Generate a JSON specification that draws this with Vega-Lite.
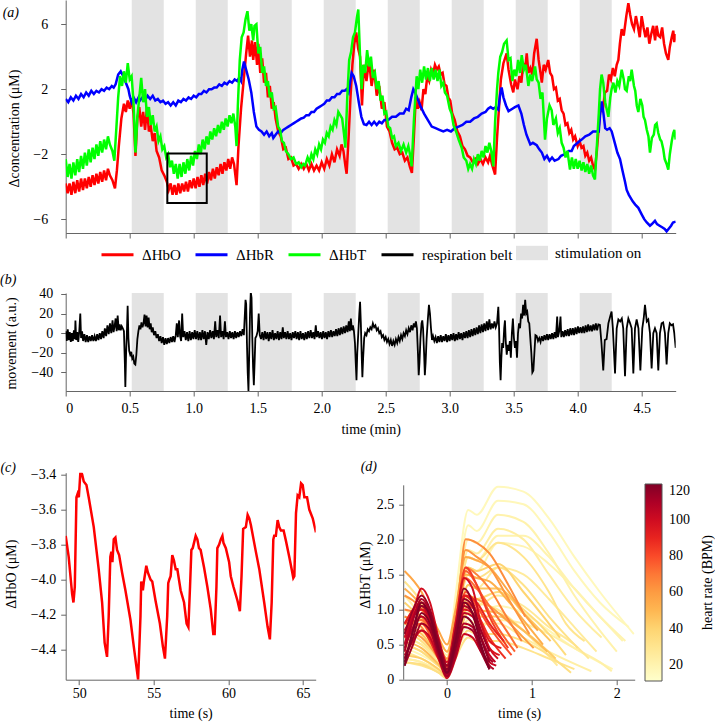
{
"$schema":"https://vega.github.io/schema/vega-lite/v6.json",
"autosize":{"type":"none"},
"padding":{"left":65.7,"top":0,"right":649.3,"bottom":723},
"background":"white",
"config":{
"font":"Liberation Serif",
"view":{"stroke":null},
"axis":{"labelFont":"Liberation Serif","titleFont":"Liberation Serif","labelFontSize":14,"titleFontSize":14,"titleFontWeight":"normal","labelColor":"#000","titleColor":"#000","domainColor":"#666","tickColor":"#666","grid":false,"tickSize":5},
"legend":{"labelFont":"Liberation Serif","titleFont":"Liberation Serif","labelColor":"#000","titleColor":"#000","titleFontWeight":"normal","padding":0},
"title":{"font":"Liberation Serif","fontSize":14,"fontStyle":"italic","fontWeight":"normal","anchor":"start","frame":"group","offset":0,"baseline":"alphabetic","color":"#000"}
},
"datasets":{
"bands":[{"x0":0.516,"x1":0.766,"lab":"stimulation on"},{"x0":1.016,"x1":1.266,"lab":"stimulation on"},{"x0":1.516,"x1":1.766,"lab":"stimulation on"},{"x0":2.016,"x1":2.266,"lab":"stimulation on"},{"x0":2.516,"x1":2.766,"lab":"stimulation on"},{"x0":3.016,"x1":3.266,"lab":"stimulation on"},{"x0":3.516,"x1":3.766,"lab":"stimulation on"},{"x0":4.016,"x1":4.266,"lab":"stimulation on"}],
"a":[
{"s":"ΔHbO","t":0,"v":-3.8},{"s":"ΔHbO","t":0.015,"v":-4.4},{"s":"ΔHbO","t":0.03,"v":-3.8},{"s":"ΔHbO","t":0.045,"v":-4.5},{"s":"ΔHbO","t":0.06,"v":-3.7},{"s":"ΔHbO","t":0.075,"v":-4.4},{"s":"ΔHbO","t":0.09,"v":-3.6},{"s":"ΔHbO","t":0.105,"v":-4.3},{"s":"ΔHbO","t":0.12,"v":-3.5},{"s":"ΔHbO","t":0.135,"v":-4.2},{"s":"ΔHbO","t":0.15,"v":-3.5},{"s":"ΔHbO","t":0.165,"v":-4.1},{"s":"ΔHbO","t":0.18,"v":-3.4},{"s":"ΔHbO","t":0.195,"v":-4.0},{"s":"ΔHbO","t":0.21,"v":-3.3},{"s":"ΔHbO","t":0.225,"v":-3.9},{"s":"ΔHbO","t":0.24,"v":-3.2},{"s":"ΔHbO","t":0.255,"v":-3.8},{"s":"ΔHbO","t":0.27,"v":-3.1},{"s":"ΔHbO","t":0.285,"v":-3.7},{"s":"ΔHbO","t":0.3,"v":-3.0},{"s":"ΔHbO","t":0.315,"v":-3.6},{"s":"ΔHbO","t":0.33,"v":-2.9},{"s":"ΔHbO","t":0.345,"v":-3.3},{"s":"ΔHbO","t":0.365,"v":-3.6},{"s":"ΔHbO","t":0.385,"v":-4.1},{"s":"ΔHbO","t":0.4,"v":-3.0},{"s":"ΔHbO","t":0.415,"v":-1.5},{"s":"ΔHbO","t":0.435,"v":0.2},{"s":"ΔHbO","t":0.455,"v":1.1},{"s":"ΔHbO","t":0.47,"v":0.6},{"s":"ΔHbO","t":0.485,"v":1.3},{"s":"ΔHbO","t":0.5,"v":0.8},{"s":"ΔHbO","t":0.515,"v":1.4},{"s":"ΔHbO","t":0.53,"v":0.5},{"s":"ΔHbO","t":0.545,"v":-2.1},{"s":"ΔHbO","t":0.56,"v":0.2},{"s":"ΔHbO","t":0.575,"v":0.9},{"s":"ΔHbO","t":0.59,"v":-0.3},{"s":"ΔHbO","t":0.605,"v":0.6},{"s":"ΔHbO","t":0.62,"v":-0.5},{"s":"ΔHbO","t":0.635,"v":0.9},{"s":"ΔHbO","t":0.65,"v":-0.6},{"s":"ΔHbO","t":0.665,"v":-0.3},{"s":"ΔHbO","t":0.68,"v":-1.2},{"s":"ΔHbO","t":0.695,"v":-0.7},{"s":"ΔHbO","t":0.71,"v":-1.8},{"s":"ΔHbO","t":0.73,"v":-2.2},{"s":"ΔHbO","t":0.75,"v":-3.0},{"s":"ΔHbO","t":0.77,"v":-3.3},{"s":"ΔHbO","t":0.79,"v":-3.7},{"s":"ΔHbO","t":0.805,"v":-4.2},{"s":"ΔHbO","t":0.82,"v":-3.8},{"s":"ΔHbO","t":0.835,"v":-4.5},{"s":"ΔHbO","t":0.85,"v":-3.9},{"s":"ΔHbO","t":0.865,"v":-4.5},{"s":"ΔHbO","t":0.88,"v":-3.8},{"s":"ΔHbO","t":0.895,"v":-4.4},{"s":"ΔHbO","t":0.91,"v":-3.8},{"s":"ΔHbO","t":0.925,"v":-4.3},{"s":"ΔHbO","t":0.94,"v":-3.7},{"s":"ΔHbO","t":0.955,"v":-4.3},{"s":"ΔHbO","t":0.97,"v":-3.6},{"s":"ΔHbO","t":0.985,"v":-4.1},{"s":"ΔHbO","t":1.0,"v":-3.5},{"s":"ΔHbO","t":1.015,"v":-4.1},{"s":"ΔHbO","t":1.03,"v":-3.4},{"s":"ΔHbO","t":1.045,"v":-4.0},{"s":"ΔHbO","t":1.06,"v":-3.3},{"s":"ΔHbO","t":1.075,"v":-3.9},{"s":"ΔHbO","t":1.09,"v":-3.2},{"s":"ΔHbO","t":1.105,"v":-3.8},{"s":"ΔHbO","t":1.12,"v":-3.1},{"s":"ΔHbO","t":1.135,"v":-3.6},{"s":"ΔHbO","t":1.15,"v":-2.9},{"s":"ΔHbO","t":1.165,"v":-3.5},{"s":"ΔHbO","t":1.18,"v":-2.8},{"s":"ΔHbO","t":1.195,"v":-3.3},{"s":"ΔHbO","t":1.21,"v":-2.6},{"s":"ΔHbO","t":1.225,"v":-3.2},{"s":"ΔHbO","t":1.24,"v":-2.5},{"s":"ΔHbO","t":1.255,"v":-3.0},{"s":"ΔHbO","t":1.27,"v":-2.3},{"s":"ΔHbO","t":1.285,"v":-2.9},{"s":"ΔHbO","t":1.3,"v":-2.2},{"s":"ΔHbO","t":1.315,"v":-2.6},{"s":"ΔHbO","t":1.335,"v":-3.9},{"s":"ΔHbO","t":1.35,"v":-1.5},{"s":"ΔHbO","t":1.37,"v":0.8},{"s":"ΔHbO","t":1.39,"v":2.5},{"s":"ΔHbO","t":1.41,"v":4.2},{"s":"ΔHbO","t":1.425,"v":5.3},{"s":"ΔHbO","t":1.44,"v":4.0},{"s":"ΔHbO","t":1.455,"v":5.0},{"s":"ΔHbO","t":1.465,"v":3.8},{"s":"ΔHbO","t":1.48,"v":4.9},{"s":"ΔHbO","t":1.495,"v":3.5},{"s":"ΔHbO","t":1.505,"v":4.8},{"s":"ΔHbO","t":1.52,"v":3.0},{"s":"ΔHbO","t":1.535,"v":3.9},{"s":"ΔHbO","t":1.55,"v":2.4},{"s":"ΔHbO","t":1.565,"v":3.0},{"s":"ΔHbO","t":1.58,"v":1.5},{"s":"ΔHbO","t":1.595,"v":2.2},{"s":"ΔHbO","t":1.61,"v":0.8},{"s":"ΔHbO","t":1.625,"v":1.2},{"s":"ΔHbO","t":1.64,"v":0.2},{"s":"ΔHbO","t":1.66,"v":-0.6},{"s":"ΔHbO","t":1.68,"v":-0.9},{"s":"ΔHbO","t":1.7,"v":-1.7},{"s":"ΔHbO","t":1.72,"v":-1.6},{"s":"ΔHbO","t":1.74,"v":-2.3},{"s":"ΔHbO","t":1.76,"v":-2.2},{"s":"ΔHbO","t":1.78,"v":-2.7},{"s":"ΔHbO","t":1.8,"v":-2.6},{"s":"ΔHbO","t":1.82,"v":-2.9},{"s":"ΔHbO","t":1.84,"v":-2.6},{"s":"ΔHbO","t":1.86,"v":-2.9},{"s":"ΔHbO","t":1.88,"v":-2.6},{"s":"ΔHbO","t":1.9,"v":-3.0},{"s":"ΔHbO","t":1.92,"v":-2.6},{"s":"ΔHbO","t":1.94,"v":-3.0},{"s":"ΔHbO","t":1.96,"v":-2.7},{"s":"ΔHbO","t":1.98,"v":-3.0},{"s":"ΔHbO","t":2.0,"v":-2.5},{"s":"ΔHbO","t":2.02,"v":-2.9},{"s":"ΔHbO","t":2.04,"v":-2.3},{"s":"ΔHbO","t":2.06,"v":-2.7},{"s":"ΔHbO","t":2.08,"v":-2.0},{"s":"ΔHbO","t":2.1,"v":-2.5},{"s":"ΔHbO","t":2.12,"v":-1.7},{"s":"ΔHbO","t":2.14,"v":-2.1},{"s":"ΔHbO","t":2.155,"v":-1.4},{"s":"ΔHbO","t":2.17,"v":-1.8},{"s":"ΔHbO","t":2.185,"v":-2.7},{"s":"ΔHbO","t":2.195,"v":-3.2},{"s":"ΔHbO","t":2.21,"v":-1.0},{"s":"ΔHbO","t":2.225,"v":1.5},{"s":"ΔHbO","t":2.24,"v":3.5},{"s":"ΔHbO","t":2.255,"v":4.8},{"s":"ΔHbO","t":2.27,"v":5.5},{"s":"ΔHbO","t":2.285,"v":4.5},{"s":"ΔHbO","t":2.3,"v":4.0},{"s":"ΔHbO","t":2.315,"v":1.0},{"s":"ΔHbO","t":2.33,"v":3.5},{"s":"ΔHbO","t":2.35,"v":2.5},{"s":"ΔHbO","t":2.37,"v":3.8},{"s":"ΔHbO","t":2.39,"v":2.2},{"s":"ΔHbO","t":2.41,"v":3.2},{"s":"ΔHbO","t":2.43,"v":1.6},{"s":"ΔHbO","t":2.45,"v":2.2},{"s":"ΔHbO","t":2.47,"v":0.8},{"s":"ΔHbO","t":2.49,"v":1.2},{"s":"ΔHbO","t":2.51,"v":-0.3},{"s":"ΔHbO","t":2.53,"v":-0.6},{"s":"ΔHbO","t":2.55,"v":-1.3},{"s":"ΔHbO","t":2.57,"v":-1.7},{"s":"ΔHbO","t":2.59,"v":-1.6},{"s":"ΔHbO","t":2.61,"v":-2.0},{"s":"ΔHbO","t":2.63,"v":-1.9},{"s":"ΔHbO","t":2.65,"v":-2.4},{"s":"ΔHbO","t":2.67,"v":-2.2},{"s":"ΔHbO","t":2.69,"v":-2.8},{"s":"ΔHbO","t":2.705,"v":-3.15},{"s":"ΔHbO","t":2.72,"v":-1.0},{"s":"ΔHbO","t":2.735,"v":1.5},{"s":"ΔHbO","t":2.75,"v":0.8},{"s":"ΔHbO","t":2.765,"v":1.2},{"s":"ΔHbO","t":2.78,"v":0.7},{"s":"ΔHbO","t":2.795,"v":2.0},{"s":"ΔHbO","t":2.81,"v":1.7},{"s":"ΔHbO","t":2.825,"v":2.8},{"s":"ΔHbO","t":2.84,"v":2.5},{"s":"ΔHbO","t":2.855,"v":3.2},{"s":"ΔHbO","t":2.87,"v":2.9},{"s":"ΔHbO","t":2.885,"v":3.5},{"s":"ΔHbO","t":2.9,"v":3.2},{"s":"ΔHbO","t":2.915,"v":3.4},{"s":"ΔHbO","t":2.93,"v":2.9},{"s":"ΔHbO","t":2.945,"v":3.0},{"s":"ΔHbO","t":2.96,"v":2.3},{"s":"ΔHbO","t":2.975,"v":2.2},{"s":"ΔHbO","t":2.99,"v":1.5},{"s":"ΔHbO","t":3.005,"v":1.3},{"s":"ΔHbO","t":3.02,"v":0.5},{"s":"ΔHbO","t":3.04,"v":0.1},{"s":"ΔHbO","t":3.06,"v":-0.6},{"s":"ΔHbO","t":3.08,"v":-0.9},{"s":"ΔHbO","t":3.1,"v":-1.5},{"s":"ΔHbO","t":3.12,"v":-1.7},{"s":"ΔHbO","t":3.14,"v":-2.1},{"s":"ΔHbO","t":3.16,"v":-2.2},{"s":"ΔHbO","t":3.18,"v":-2.5},{"s":"ΔHbO","t":3.2,"v":-2.3},{"s":"ΔHbO","t":3.22,"v":-2.6},{"s":"ΔHbO","t":3.24,"v":-2.3},{"s":"ΔHbO","t":3.26,"v":-2.6},{"s":"ΔHbO","t":3.28,"v":-2.2},{"s":"ΔHbO","t":3.3,"v":-2.5},{"s":"ΔHbO","t":3.315,"v":-2.1},{"s":"ΔHbO","t":3.33,"v":-2.6},{"s":"ΔHbO","t":3.345,"v":-3.0},{"s":"ΔHbO","t":3.355,"v":-3.25},{"s":"ΔHbO","t":3.37,"v":-1.0},{"s":"ΔHbO","t":3.385,"v":0.8},{"s":"ΔHbO","t":3.4,"v":2.6},{"s":"ΔHbO","t":3.42,"v":3.6},{"s":"ΔHbO","t":3.445,"v":4.2},{"s":"ΔHbO","t":3.46,"v":3.2},{"s":"ΔHbO","t":3.48,"v":2.3},{"s":"ΔHbO","t":3.497,"v":1.8},{"s":"ΔHbO","t":3.51,"v":2.6},{"s":"ΔHbO","t":3.53,"v":2.0},{"s":"ΔHbO","t":3.545,"v":2.8},{"s":"ΔHbO","t":3.56,"v":2.4},{"s":"ΔHbO","t":3.575,"v":3.6},{"s":"ΔHbO","t":3.59,"v":3.2},{"s":"ΔHbO","t":3.602,"v":4.2},{"s":"ΔHbO","t":3.615,"v":3.0},{"s":"ΔHbO","t":3.63,"v":3.3},{"s":"ΔHbO","t":3.645,"v":2.9},{"s":"ΔHbO","t":3.66,"v":4.2},{"s":"ΔHbO","t":3.68,"v":5.1},{"s":"ΔHbO","t":3.695,"v":3.8},{"s":"ΔHbO","t":3.71,"v":3.0},{"s":"ΔHbO","t":3.72,"v":2.4},{"s":"ΔHbO","t":3.735,"v":3.5},{"s":"ΔHbO","t":3.75,"v":3.2},{"s":"ΔHbO","t":3.77,"v":3.8},{"s":"ΔHbO","t":3.785,"v":3.0},{"s":"ΔHbO","t":3.8,"v":2.8},{"s":"ΔHbO","t":3.815,"v":2.0},{"s":"ΔHbO","t":3.83,"v":2.1},{"s":"ΔHbO","t":3.845,"v":1.3},{"s":"ΔHbO","t":3.86,"v":1.4},{"s":"ΔHbO","t":3.875,"v":0.7},{"s":"ΔHbO","t":3.89,"v":0.5},{"s":"ΔHbO","t":3.905,"v":-0.2},{"s":"ΔHbO","t":3.92,"v":-0.1},{"s":"ΔHbO","t":3.935,"v":-0.7},{"s":"ΔHbO","t":3.95,"v":-0.5},{"s":"ΔHbO","t":3.965,"v":-1.1},{"s":"ΔHbO","t":3.98,"v":-0.9},{"s":"ΔHbO","t":4.0,"v":-1.5},{"s":"ΔHbO","t":4.015,"v":-1.2},{"s":"ΔHbO","t":4.03,"v":-1.6},{"s":"ΔHbO","t":4.045,"v":-1.5},{"s":"ΔHbO","t":4.06,"v":-2.1},{"s":"ΔHbO","t":4.075,"v":-1.9},{"s":"ΔHbO","t":4.09,"v":-2.4},{"s":"ΔHbO","t":4.105,"v":-2.2},{"s":"ΔHbO","t":4.12,"v":-2.7},{"s":"ΔHbO","t":4.135,"v":-2.95},{"s":"ΔHbO","t":4.15,"v":-1.8},{"s":"ΔHbO","t":4.165,"v":-0.3},{"s":"ΔHbO","t":4.18,"v":1.0},{"s":"ΔHbO","t":4.195,"v":0.6},{"s":"ΔHbO","t":4.213,"v":1.8},{"s":"ΔHbO","t":4.23,"v":1.9},{"s":"ΔHbO","t":4.245,"v":2.9},{"s":"ΔHbO","t":4.26,"v":2.6},{"s":"ΔHbO","t":4.275,"v":3.3},{"s":"ΔHbO","t":4.29,"v":2.8},{"s":"ΔHbO","t":4.305,"v":3.5},{"s":"ΔHbO","t":4.318,"v":3.8},{"s":"ΔHbO","t":4.33,"v":4.8},{"s":"ΔHbO","t":4.344,"v":5.7},{"s":"ΔHbO","t":4.36,"v":5.3},{"s":"ΔHbO","t":4.38,"v":6.5},{"s":"ΔHbO","t":4.396,"v":7.3},{"s":"ΔHbO","t":4.41,"v":6.6},{"s":"ΔHbO","t":4.425,"v":6.0},{"s":"ΔHbO","t":4.44,"v":5.7},{"s":"ΔHbO","t":4.455,"v":6.5},{"s":"ΔHbO","t":4.47,"v":5.9},{"s":"ΔHbO","t":4.485,"v":5.2},{"s":"ΔHbO","t":4.5,"v":6.5},{"s":"ΔHbO","t":4.515,"v":5.8},{"s":"ΔHbO","t":4.53,"v":5.2},{"s":"ΔHbO","t":4.545,"v":5.8},{"s":"ΔHbO","t":4.56,"v":4.8},{"s":"ΔHbO","t":4.575,"v":5.4},{"s":"ΔHbO","t":4.59,"v":5.9},{"s":"ΔHbO","t":4.605,"v":5.0},{"s":"ΔHbO","t":4.617,"v":5.9},{"s":"ΔHbO","t":4.63,"v":5.3},{"s":"ΔHbO","t":4.645,"v":5.2},{"s":"ΔHbO","t":4.66,"v":5.8},{"s":"ΔHbO","t":4.675,"v":4.8},{"s":"ΔHbO","t":4.69,"v":4.2},{"s":"ΔHbO","t":4.708,"v":3.8},{"s":"ΔHbO","t":4.72,"v":4.6},{"s":"ΔHbO","t":4.735,"v":5.2},{"s":"ΔHbO","t":4.747,"v":5.6},{"s":"ΔHbO","t":4.755,"v":4.9},{"s":"ΔHbO","t":4.766,"v":5.4},
{"s":"ΔHbR","t":0,"v":1.4},{"s":"ΔHbR","t":0.02,"v":1.2},{"s":"ΔHbR","t":0.04,"v":1.5},{"s":"ΔHbR","t":0.06,"v":1.3},{"s":"ΔHbR","t":0.08,"v":1.6},{"s":"ΔHbR","t":0.1,"v":1.4},{"s":"ΔHbR","t":0.12,"v":1.7},{"s":"ΔHbR","t":0.14,"v":1.5},{"s":"ΔHbR","t":0.16,"v":1.8},{"s":"ΔHbR","t":0.18,"v":1.6},{"s":"ΔHbR","t":0.2,"v":1.9},{"s":"ΔHbR","t":0.22,"v":1.7},{"s":"ΔHbR","t":0.24,"v":1.9},{"s":"ΔHbR","t":0.26,"v":1.8},{"s":"ΔHbR","t":0.28,"v":2.0},{"s":"ΔHbR","t":0.3,"v":1.9},{"s":"ΔHbR","t":0.32,"v":2.1},{"s":"ΔHbR","t":0.34,"v":2.0},{"s":"ΔHbR","t":0.36,"v":2.2},{"s":"ΔHbR","t":0.375,"v":2.1},{"s":"ΔHbR","t":0.39,"v":2.3},{"s":"ΔHbR","t":0.41,"v":2.9},{"s":"ΔHbR","t":0.43,"v":3.1},{"s":"ΔHbR","t":0.45,"v":2.8},{"s":"ΔHbR","t":0.47,"v":2.4},{"s":"ΔHbR","t":0.49,"v":2.0},{"s":"ΔHbR","t":0.5,"v":1.6},{"s":"ΔHbR","t":0.515,"v":1.2},{"s":"ΔHbR","t":0.53,"v":1.5},{"s":"ΔHbR","t":0.55,"v":1.2},{"s":"ΔHbR","t":0.57,"v":1.5},{"s":"ΔHbR","t":0.58,"v":1.3},{"s":"ΔHbR","t":0.6,"v":1.5},{"s":"ΔHbR","t":0.62,"v":1.3},{"s":"ΔHbR","t":0.64,"v":1.6},{"s":"ΔHbR","t":0.66,"v":1.4},{"s":"ΔHbR","t":0.68,"v":1.6},{"s":"ΔHbR","t":0.7,"v":1.3},{"s":"ΔHbR","t":0.72,"v":1.4},{"s":"ΔHbR","t":0.74,"v":1.2},{"s":"ΔHbR","t":0.76,"v":1.3},{"s":"ΔHbR","t":0.78,"v":1.1},{"s":"ΔHbR","t":0.8,"v":1.2},{"s":"ΔHbR","t":0.82,"v":1.0},{"s":"ΔHbR","t":0.84,"v":1.2},{"s":"ΔHbR","t":0.86,"v":1.0},{"s":"ΔHbR","t":0.88,"v":1.3},{"s":"ΔHbR","t":0.9,"v":1.2},{"s":"ΔHbR","t":0.92,"v":1.4},{"s":"ΔHbR","t":0.94,"v":1.3},{"s":"ΔHbR","t":0.96,"v":1.5},{"s":"ΔHbR","t":0.98,"v":1.4},{"s":"ΔHbR","t":1.0,"v":1.6},{"s":"ΔHbR","t":1.02,"v":1.5},{"s":"ΔHbR","t":1.04,"v":1.7},{"s":"ΔHbR","t":1.06,"v":1.7},{"s":"ΔHbR","t":1.08,"v":1.9},{"s":"ΔHbR","t":1.1,"v":1.8},{"s":"ΔHbR","t":1.12,"v":2.0},{"s":"ΔHbR","t":1.14,"v":2.0},{"s":"ΔHbR","t":1.16,"v":2.1},{"s":"ΔHbR","t":1.18,"v":2.1},{"s":"ΔHbR","t":1.2,"v":2.3},{"s":"ΔHbR","t":1.22,"v":2.2},{"s":"ΔHbR","t":1.24,"v":2.4},{"s":"ΔHbR","t":1.26,"v":2.3},{"s":"ΔHbR","t":1.28,"v":2.5},{"s":"ΔHbR","t":1.3,"v":2.4},{"s":"ΔHbR","t":1.32,"v":2.6},{"s":"ΔHbR","t":1.34,"v":2.5},{"s":"ΔHbR","t":1.355,"v":2.7},{"s":"ΔHbR","t":1.37,"v":2.5},{"s":"ΔHbR","t":1.38,"v":3.2},{"s":"ΔHbR","t":1.393,"v":3.7},{"s":"ΔHbR","t":1.41,"v":3.2},{"s":"ΔHbR","t":1.43,"v":2.6},{"s":"ΔHbR","t":1.45,"v":1.8},{"s":"ΔHbR","t":1.47,"v":0.6},{"s":"ΔHbR","t":1.49,"v":-0.3},{"s":"ΔHbR","t":1.51,"v":-0.5},{"s":"ΔHbR","t":1.53,"v":-0.6},{"s":"ΔHbR","t":1.55,"v":-0.8},{"s":"ΔHbR","t":1.57,"v":-0.6},{"s":"ΔHbR","t":1.59,"v":-0.9},{"s":"ΔHbR","t":1.61,"v":-0.7},{"s":"ΔHbR","t":1.622,"v":-1.0},{"s":"ΔHbR","t":1.64,"v":-0.8},{"s":"ΔHbR","t":1.66,"v":-0.6},{"s":"ΔHbR","t":1.68,"v":-0.7},{"s":"ΔHbR","t":1.7,"v":-0.5},{"s":"ΔHbR","t":1.72,"v":-0.4},{"s":"ΔHbR","t":1.74,"v":-0.3},{"s":"ΔHbR","t":1.76,"v":-0.2},{"s":"ΔHbR","t":1.78,"v":-0.1},{"s":"ΔHbR","t":1.8,"v":0.0},{"s":"ΔHbR","t":1.82,"v":0.1},{"s":"ΔHbR","t":1.84,"v":0.2},{"s":"ΔHbR","t":1.86,"v":0.25},{"s":"ΔHbR","t":1.88,"v":0.4},{"s":"ΔHbR","t":1.9,"v":0.4},{"s":"ΔHbR","t":1.92,"v":0.6},{"s":"ΔHbR","t":1.94,"v":0.6},{"s":"ΔHbR","t":1.96,"v":0.8},{"s":"ΔHbR","t":1.98,"v":0.9},{"s":"ΔHbR","t":2.0,"v":1.0},{"s":"ΔHbR","t":2.02,"v":1.1},{"s":"ΔHbR","t":2.04,"v":1.3},{"s":"ΔHbR","t":2.06,"v":1.3},{"s":"ΔHbR","t":2.08,"v":1.5},{"s":"ΔHbR","t":2.1,"v":1.5},{"s":"ΔHbR","t":2.12,"v":1.7},{"s":"ΔHbR","t":2.14,"v":1.7},{"s":"ΔHbR","t":2.16,"v":1.9},{"s":"ΔHbR","t":2.18,"v":1.9},{"s":"ΔHbR","t":2.195,"v":2.0},{"s":"ΔHbR","t":2.21,"v":1.8},{"s":"ΔHbR","t":2.225,"v":2.6},{"s":"ΔHbR","t":2.234,"v":3.0},{"s":"ΔHbR","t":2.25,"v":2.8},{"s":"ΔHbR","t":2.27,"v":2.2},{"s":"ΔHbR","t":2.29,"v":1.2},{"s":"ΔHbR","t":2.31,"v":0.3},{"s":"ΔHbR","t":2.33,"v":-0.15},{"s":"ΔHbR","t":2.35,"v":-0.2},{"s":"ΔHbR","t":2.37,"v":0.0},{"s":"ΔHbR","t":2.39,"v":-0.2},{"s":"ΔHbR","t":2.41,"v":0.0},{"s":"ΔHbR","t":2.43,"v":-0.2},{"s":"ΔHbR","t":2.45,"v":0.0},{"s":"ΔHbR","t":2.47,"v":-0.1},{"s":"ΔHbR","t":2.49,"v":0.1},{"s":"ΔHbR","t":2.52,"v":0.1},{"s":"ΔHbR","t":2.55,"v":0.3},{"s":"ΔHbR","t":2.58,"v":0.3},{"s":"ΔHbR","t":2.61,"v":0.5},{"s":"ΔHbR","t":2.64,"v":0.5},{"s":"ΔHbR","t":2.66,"v":0.8},{"s":"ΔHbR","t":2.68,"v":0.7},{"s":"ΔHbR","t":2.7,"v":1.5},{"s":"ΔHbR","t":2.716,"v":2.0},{"s":"ΔHbR","t":2.73,"v":1.8},{"s":"ΔHbR","t":2.75,"v":1.4},{"s":"ΔHbR","t":2.77,"v":1.0},{"s":"ΔHbR","t":2.8,"v":0.5},{"s":"ΔHbR","t":2.83,"v":0.1},{"s":"ΔHbR","t":2.86,"v":-0.3},{"s":"ΔHbR","t":2.89,"v":-0.4},{"s":"ΔHbR","t":2.92,"v":-0.5},{"s":"ΔHbR","t":2.95,"v":-0.6},{"s":"ΔHbR","t":2.98,"v":-0.5},{"s":"ΔHbR","t":3.01,"v":-0.6},{"s":"ΔHbR","t":3.04,"v":-0.4},{"s":"ΔHbR","t":3.07,"v":-0.3},{"s":"ΔHbR","t":3.1,"v":-0.2},{"s":"ΔHbR","t":3.13,"v":0.0},{"s":"ΔHbR","t":3.16,"v":0.0},{"s":"ΔHbR","t":3.19,"v":0.2},{"s":"ΔHbR","t":3.22,"v":0.3},{"s":"ΔHbR","t":3.25,"v":0.5},{"s":"ΔHbR","t":3.28,"v":0.6},{"s":"ΔHbR","t":3.3,"v":0.8},{"s":"ΔHbR","t":3.32,"v":0.9},{"s":"ΔHbR","t":3.34,"v":0.8},{"s":"ΔHbR","t":3.36,"v":0.9},{"s":"ΔHbR","t":3.38,"v":0.75},{"s":"ΔHbR","t":3.395,"v":1.7},{"s":"ΔHbR","t":3.406,"v":2.1},{"s":"ΔHbR","t":3.42,"v":1.5},{"s":"ΔHbR","t":3.44,"v":1.0},{"s":"ΔHbR","t":3.46,"v":0.65},{"s":"ΔHbR","t":3.49,"v":0.8},{"s":"ΔHbR","t":3.51,"v":0.9},{"s":"ΔHbR","t":3.537,"v":1.0},{"s":"ΔHbR","t":3.56,"v":0.5},{"s":"ΔHbR","t":3.58,"v":-0.2},{"s":"ΔHbR","t":3.6,"v":-0.8},{"s":"ΔHbR","t":3.615,"v":-1.1},{"s":"ΔHbR","t":3.63,"v":-1.4},{"s":"ΔHbR","t":3.65,"v":-1.3},{"s":"ΔHbR","t":3.68,"v":-1.45},{"s":"ΔHbR","t":3.7,"v":-1.7},{"s":"ΔHbR","t":3.72,"v":-1.9},{"s":"ΔHbR","t":3.74,"v":-2.3},{"s":"ΔHbR","t":3.76,"v":-2.1},{"s":"ΔHbR","t":3.78,"v":-2.4},{"s":"ΔHbR","t":3.8,"v":-2.2},{"s":"ΔHbR","t":3.82,"v":-2.4},{"s":"ΔHbR","t":3.85,"v":-2.3},{"s":"ΔHbR","t":3.87,"v":-2.1},{"s":"ΔHbR","t":3.9,"v":-2.0},{"s":"ΔHbR","t":3.93,"v":-1.8},{"s":"ΔHbR","t":3.953,"v":-1.8},{"s":"ΔHbR","t":3.97,"v":-1.5},{"s":"ΔHbR","t":4.0,"v":-1.3},{"s":"ΔHbR","t":4.031,"v":-1.1},{"s":"ΔHbR","t":4.06,"v":-0.9},{"s":"ΔHbR","t":4.09,"v":-0.8},{"s":"ΔHbR","t":4.12,"v":-0.6},{"s":"ΔHbR","t":4.15,"v":-0.6},{"s":"ΔHbR","t":4.165,"v":-0.6},{"s":"ΔHbR","t":4.175,"v":0.4},{"s":"ΔHbR","t":4.187,"v":1.25},{"s":"ΔHbR","t":4.2,"v":0.6},{"s":"ΔHbR","t":4.215,"v":-0.4},{"s":"ΔHbR","t":4.23,"v":-0.5},{"s":"ΔHbR","t":4.25,"v":-0.4},{"s":"ΔHbR","t":4.266,"v":-0.6},{"s":"ΔHbR","t":4.29,"v":-1.3},{"s":"ΔHbR","t":4.31,"v":-1.9},{"s":"ΔHbR","t":4.331,"v":-2.3},{"s":"ΔHbR","t":4.35,"v":-3.0},{"s":"ΔHbR","t":4.37,"v":-3.7},{"s":"ΔHbR","t":4.383,"v":-4.2},{"s":"ΔHbR","t":4.4,"v":-4.5},{"s":"ΔHbR","t":4.43,"v":-4.9},{"s":"ΔHbR","t":4.45,"v":-5.1},{"s":"ΔHbR","t":4.474,"v":-5.3},{"s":"ΔHbR","t":4.5,"v":-5.7},{"s":"ΔHbR","t":4.52,"v":-6.0},{"s":"ΔHbR","t":4.54,"v":-6.2},{"s":"ΔHbR","t":4.565,"v":-6.4},{"s":"ΔHbR","t":4.58,"v":-6.3},{"s":"ΔHbR","t":4.604,"v":-6.1},{"s":"ΔHbR","t":4.62,"v":-6.3},{"s":"ΔHbR","t":4.64,"v":-6.4},{"s":"ΔHbR","t":4.66,"v":-6.5},{"s":"ΔHbR","t":4.68,"v":-6.6},{"s":"ΔHbR","t":4.695,"v":-6.75},{"s":"ΔHbR","t":4.71,"v":-6.6},{"s":"ΔHbR","t":4.73,"v":-6.4},{"s":"ΔHbR","t":4.745,"v":-6.2},{"s":"ΔHbR","t":4.766,"v":-6.15},
{"s":"ΔHbT","t":0,"v":-2.3},{"s":"ΔHbT","t":0.015,"v":-3.4},{"s":"ΔHbT","t":0.03,"v":-2.6},{"s":"ΔHbT","t":0.045,"v":-3.5},{"s":"ΔHbT","t":0.06,"v":-2.5},{"s":"ΔHbT","t":0.075,"v":-3.3},{"s":"ΔHbT","t":0.09,"v":-2.3},{"s":"ΔHbT","t":0.105,"v":-3.1},{"s":"ΔHbT","t":0.12,"v":-2.1},{"s":"ΔHbT","t":0.135,"v":-2.9},{"s":"ΔHbT","t":0.15,"v":-1.9},{"s":"ΔHbT","t":0.165,"v":-2.7},{"s":"ΔHbT","t":0.18,"v":-1.7},{"s":"ΔHbT","t":0.195,"v":-2.5},{"s":"ΔHbT","t":0.21,"v":-1.6},{"s":"ΔHbT","t":0.225,"v":-2.3},{"s":"ΔHbT","t":0.24,"v":-1.4},{"s":"ΔHbT","t":0.255,"v":-2.1},{"s":"ΔHbT","t":0.27,"v":-1.2},{"s":"ΔHbT","t":0.285,"v":-1.9},{"s":"ΔHbT","t":0.3,"v":-1.1},{"s":"ΔHbT","t":0.315,"v":-1.7},{"s":"ΔHbT","t":0.33,"v":-0.9},{"s":"ΔHbT","t":0.345,"v":-1.4},{"s":"ΔHbT","t":0.365,"v":-1.8},{"s":"ΔHbT","t":0.38,"v":-2.4},{"s":"ΔHbT","t":0.395,"v":-0.5},{"s":"ΔHbT","t":0.41,"v":1.5},{"s":"ΔHbT","t":0.425,"v":2.8},{"s":"ΔHbT","t":0.44,"v":2.2},{"s":"ΔHbT","t":0.455,"v":3.1},{"s":"ΔHbT","t":0.47,"v":2.4},{"s":"ΔHbT","t":0.485,"v":3.6},{"s":"ΔHbT","t":0.5,"v":2.6},{"s":"ΔHbT","t":0.515,"v":2.8},{"s":"ΔHbT","t":0.53,"v":1.2},{"s":"ΔHbT","t":0.545,"v":-1.9},{"s":"ΔHbT","t":0.56,"v":0.3},{"s":"ΔHbT","t":0.575,"v":1.5},{"s":"ΔHbT","t":0.59,"v":2.7},{"s":"ΔHbT","t":0.605,"v":1.2},{"s":"ΔHbT","t":0.62,"v":2.0},{"s":"ΔHbT","t":0.635,"v":0.3},{"s":"ΔHbT","t":0.65,"v":0.9},{"s":"ΔHbT","t":0.665,"v":-0.2},{"s":"ΔHbT","t":0.68,"v":0.4},{"s":"ΔHbT","t":0.695,"v":-0.6},{"s":"ΔHbT","t":0.71,"v":-0.3},{"s":"ΔHbT","t":0.725,"v":-1.2},{"s":"ΔHbT","t":0.74,"v":-0.9},{"s":"ΔHbT","t":0.755,"v":-1.7},{"s":"ΔHbT","t":0.77,"v":-1.5},{"s":"ΔHbT","t":0.785,"v":-2.2},{"s":"ΔHbT","t":0.8,"v":-2.0},{"s":"ΔHbT","t":0.815,"v":-2.8},{"s":"ΔHbT","t":0.83,"v":-2.4},{"s":"ΔHbT","t":0.845,"v":-3.2},{"s":"ΔHbT","t":0.86,"v":-2.6},{"s":"ΔHbT","t":0.875,"v":-3.5},{"s":"ΔHbT","t":0.89,"v":-2.6},{"s":"ΔHbT","t":0.905,"v":-3.4},{"s":"ΔHbT","t":0.92,"v":-2.5},{"s":"ΔHbT","t":0.935,"v":-3.2},{"s":"ΔHbT","t":0.95,"v":-2.3},{"s":"ΔHbT","t":0.965,"v":-3.0},{"s":"ΔHbT","t":0.98,"v":-2.1},{"s":"ΔHbT","t":0.995,"v":-2.7},{"s":"ΔHbT","t":1.01,"v":-1.8},{"s":"ΔHbT","t":1.025,"v":-2.3},{"s":"ΔHbT","t":1.04,"v":-1.4},{"s":"ΔHbT","t":1.055,"v":-2.0},{"s":"ΔHbT","t":1.07,"v":-1.1},{"s":"ΔHbT","t":1.085,"v":-1.7},{"s":"ΔHbT","t":1.1,"v":-0.9},{"s":"ΔHbT","t":1.115,"v":-1.4},{"s":"ΔHbT","t":1.13,"v":-0.6},{"s":"ΔHbT","t":1.145,"v":-1.1},{"s":"ΔHbT","t":1.16,"v":-0.4},{"s":"ΔHbT","t":1.175,"v":-0.9},{"s":"ΔHbT","t":1.19,"v":-0.2},{"s":"ΔHbT","t":1.205,"v":-0.7},{"s":"ΔHbT","t":1.22,"v":0.0},{"s":"ΔHbT","t":1.235,"v":-0.5},{"s":"ΔHbT","t":1.25,"v":0.2},{"s":"ΔHbT","t":1.265,"v":-0.3},{"s":"ΔHbT","t":1.28,"v":0.4},{"s":"ΔHbT","t":1.295,"v":-0.1},{"s":"ΔHbT","t":1.31,"v":0.5},{"s":"ΔHbT","t":1.325,"v":-0.3},{"s":"ΔHbT","t":1.335,"v":-1.5},{"s":"ΔHbT","t":1.345,"v":1.0},{"s":"ΔHbT","t":1.36,"v":3.8},{"s":"ΔHbT","t":1.375,"v":5.2},{"s":"ΔHbT","t":1.39,"v":5.5},{"s":"ΔHbT","t":1.405,"v":6.3},{"s":"ΔHbT","t":1.42,"v":6.8},{"s":"ΔHbT","t":1.435,"v":5.6},{"s":"ΔHbT","t":1.45,"v":6.0},{"s":"ΔHbT","t":1.465,"v":5.0},{"s":"ΔHbT","t":1.475,"v":5.9},{"s":"ΔHbT","t":1.49,"v":6.0},{"s":"ΔHbT","t":1.505,"v":4.2},{"s":"ΔHbT","t":1.52,"v":4.6},{"s":"ΔHbT","t":1.535,"v":3.0},{"s":"ΔHbT","t":1.55,"v":3.4},{"s":"ΔHbT","t":1.565,"v":2.2},{"s":"ΔHbT","t":1.58,"v":2.5},{"s":"ΔHbT","t":1.595,"v":1.5},{"s":"ΔHbT","t":1.61,"v":1.8},{"s":"ΔHbT","t":1.625,"v":0.8},{"s":"ΔHbT","t":1.64,"v":0.9},{"s":"ΔHbT","t":1.66,"v":-0.3},{"s":"ΔHbT","t":1.675,"v":-0.5},{"s":"ΔHbT","t":1.69,"v":-1.2},{"s":"ΔHbT","t":1.705,"v":-1.3},{"s":"ΔHbT","t":1.72,"v":-1.8},{"s":"ΔHbT","t":1.74,"v":-2.0},{"s":"ΔHbT","t":1.76,"v":-2.3},{"s":"ΔHbT","t":1.78,"v":-2.2},{"s":"ΔHbT","t":1.8,"v":-2.6},{"s":"ΔHbT","t":1.82,"v":-2.5},{"s":"ΔHbT","t":1.84,"v":-2.8},{"s":"ΔHbT","t":1.856,"v":-2.6},{"s":"ΔHbT","t":1.87,"v":-2.7},{"s":"ΔHbT","t":1.89,"v":-2.2},{"s":"ΔHbT","t":1.905,"v":-2.5},{"s":"ΔHbT","t":1.92,"v":-2.0},{"s":"ΔHbT","t":1.935,"v":-2.3},{"s":"ΔHbT","t":1.95,"v":-1.7},{"s":"ΔHbT","t":1.965,"v":-2.0},{"s":"ΔHbT","t":1.98,"v":-1.4},{"s":"ΔHbT","t":1.995,"v":-1.7},{"s":"ΔHbT","t":2.01,"v":-1.1},{"s":"ΔHbT","t":2.025,"v":-1.3},{"s":"ΔHbT","t":2.04,"v":-0.7},{"s":"ΔHbT","t":2.055,"v":-0.9},{"s":"ΔHbT","t":2.07,"v":-0.3},{"s":"ΔHbT","t":2.085,"v":-0.5},{"s":"ΔHbT","t":2.1,"v":0.1},{"s":"ΔHbT","t":2.115,"v":-0.2},{"s":"ΔHbT","t":2.13,"v":0.6},{"s":"ΔHbT","t":2.145,"v":0.4},{"s":"ΔHbT","t":2.16,"v":0.2},{"s":"ΔHbT","t":2.175,"v":-0.8},{"s":"ΔHbT","t":2.185,"v":-1.6},{"s":"ΔHbT","t":2.2,"v":1.5},{"s":"ΔHbT","t":2.215,"v":3.8},{"s":"ΔHbT","t":2.23,"v":4.3},{"s":"ΔHbT","t":2.245,"v":5.2},{"s":"ΔHbT","t":2.26,"v":5.5},{"s":"ΔHbT","t":2.275,"v":6.4},{"s":"ΔHbT","t":2.286,"v":6.9},{"s":"ΔHbT","t":2.3,"v":4.0},{"s":"ΔHbT","t":2.312,"v":2.0},{"s":"ΔHbT","t":2.325,"v":3.5},{"s":"ΔHbT","t":2.34,"v":3.0},{"s":"ΔHbT","t":2.355,"v":4.4},{"s":"ΔHbT","t":2.37,"v":3.4},{"s":"ΔHbT","t":2.385,"v":4.0},{"s":"ΔHbT","t":2.4,"v":2.7},{"s":"ΔHbT","t":2.416,"v":3.0},{"s":"ΔHbT","t":2.43,"v":2.0},{"s":"ΔHbT","t":2.445,"v":2.5},{"s":"ΔHbT","t":2.46,"v":1.3},{"s":"ΔHbT","t":2.475,"v":1.6},{"s":"ΔHbT","t":2.49,"v":0.5},{"s":"ΔHbT","t":2.505,"v":0.6},{"s":"ΔHbT","t":2.52,"v":-0.3},{"s":"ΔHbT","t":2.535,"v":-0.4},{"s":"ΔHbT","t":2.55,"v":-1.0},{"s":"ΔHbT","t":2.565,"v":-0.9},{"s":"ΔHbT","t":2.58,"v":-1.5},{"s":"ΔHbT","t":2.6,"v":-1.3},{"s":"ΔHbT","t":2.62,"v":-1.8},{"s":"ΔHbT","t":2.64,"v":-1.4},{"s":"ΔHbT","t":2.66,"v":-1.9},{"s":"ΔHbT","t":2.677,"v":-1.5},{"s":"ΔHbT","t":2.69,"v":-2.0},{"s":"ΔHbT","t":2.703,"v":-2.75},{"s":"ΔHbT","t":2.72,"v":0.0},{"s":"ΔHbT","t":2.742,"v":2.8},{"s":"ΔHbT","t":2.755,"v":2.0},{"s":"ΔHbT","t":2.77,"v":3.2},{"s":"ΔHbT","t":2.785,"v":2.4},{"s":"ΔHbT","t":2.8,"v":3.4},{"s":"ΔHbT","t":2.815,"v":2.6},{"s":"ΔHbT","t":2.83,"v":3.3},{"s":"ΔHbT","t":2.845,"v":2.5},{"s":"ΔHbT","t":2.86,"v":3.3},{"s":"ΔHbT","t":2.875,"v":2.6},{"s":"ΔHbT","t":2.89,"v":3.2},{"s":"ΔHbT","t":2.905,"v":2.5},{"s":"ΔHbT","t":2.92,"v":3.2},{"s":"ΔHbT","t":2.935,"v":2.2},{"s":"ΔHbT","t":2.95,"v":2.4},{"s":"ΔHbT","t":2.963,"v":1.8},{"s":"ΔHbT","t":2.98,"v":1.6},{"s":"ΔHbT","t":3.0,"v":0.8},{"s":"ΔHbT","t":3.015,"v":0.5},{"s":"ΔHbT","t":3.03,"v":-0.2},{"s":"ΔHbT","t":3.05,"v":-0.6},{"s":"ΔHbT","t":3.07,"v":-1.1},{"s":"ΔHbT","t":3.094,"v":-1.6},{"s":"ΔHbT","t":3.11,"v":-2.2},{"s":"ΔHbT","t":3.13,"v":-2.4},{"s":"ΔHbT","t":3.145,"v":-2.9},{"s":"ΔHbT","t":3.159,"v":-2.6},{"s":"ΔHbT","t":3.175,"v":-2.9},{"s":"ΔHbT","t":3.19,"v":-2.3},{"s":"ΔHbT","t":3.205,"v":-2.6},{"s":"ΔHbT","t":3.22,"v":-2.0},{"s":"ΔHbT","t":3.235,"v":-2.4},{"s":"ΔHbT","t":3.25,"v":-1.8},{"s":"ΔHbT","t":3.265,"v":-2.2},{"s":"ΔHbT","t":3.28,"v":-1.5},{"s":"ΔHbT","t":3.295,"v":-1.9},{"s":"ΔHbT","t":3.31,"v":-1.3},{"s":"ΔHbT","t":3.325,"v":-1.8},{"s":"ΔHbT","t":3.341,"v":-2.75},{"s":"ΔHbT","t":3.355,"v":0.0},{"s":"ΔHbT","t":3.37,"v":2.0},{"s":"ΔHbT","t":3.38,"v":3.0},{"s":"ΔHbT","t":3.395,"v":4.0},{"s":"ΔHbT","t":3.41,"v":4.3},{"s":"ΔHbT","t":3.425,"v":4.8},{"s":"ΔHbT","t":3.445,"v":5.0},{"s":"ΔHbT","t":3.46,"v":3.8},{"s":"ΔHbT","t":3.475,"v":3.9},{"s":"ΔHbT","t":3.49,"v":2.5},{"s":"ΔHbT","t":3.505,"v":3.2},{"s":"ΔHbT","t":3.52,"v":2.8},{"s":"ΔHbT","t":3.535,"v":3.8},{"s":"ΔHbT","t":3.55,"v":3.0},{"s":"ΔHbT","t":3.563,"v":4.1},{"s":"ΔHbT","t":3.58,"v":3.2},{"s":"ΔHbT","t":3.595,"v":3.5},{"s":"ΔHbT","t":3.615,"v":2.2},{"s":"ΔHbT","t":3.63,"v":2.9},{"s":"ΔHbT","t":3.645,"v":2.5},{"s":"ΔHbT","t":3.667,"v":3.4},{"s":"ΔHbT","t":3.68,"v":2.6},{"s":"ΔHbT","t":3.695,"v":2.4},{"s":"ΔHbT","t":3.71,"v":1.4},{"s":"ΔHbT","t":3.725,"v":1.8},{"s":"ΔHbT","t":3.745,"v":-1.1},{"s":"ΔHbT","t":3.76,"v":0.2},{"s":"ΔHbT","t":3.78,"v":1.0},{"s":"ΔHbT","t":3.797,"v":0.7},{"s":"ΔHbT","t":3.81,"v":-0.2},{"s":"ΔHbT","t":3.83,"v":0.2},{"s":"ΔHbT","t":3.845,"v":-0.7},{"s":"ΔHbT","t":3.86,"v":-0.4},{"s":"ΔHbT","t":3.875,"v":-1.3},{"s":"ΔHbT","t":3.89,"v":-1.6},{"s":"ΔHbT","t":3.905,"v":-2.2},{"s":"ΔHbT","t":3.92,"v":-1.8},{"s":"ΔHbT","t":3.94,"v":-2.95},{"s":"ΔHbT","t":3.955,"v":-2.2},{"s":"ΔHbT","t":3.97,"v":-2.9},{"s":"ΔHbT","t":3.985,"v":-2.3},{"s":"ΔHbT","t":4.0,"v":-2.9},{"s":"ΔHbT","t":4.015,"v":-2.4},{"s":"ΔHbT","t":4.031,"v":-3.0},{"s":"ΔHbT","t":4.045,"v":-2.5},{"s":"ΔHbT","t":4.06,"v":-3.1},{"s":"ΔHbT","t":4.075,"v":-2.6},{"s":"ΔHbT","t":4.09,"v":-3.2},{"s":"ΔHbT","t":4.105,"v":-2.7},{"s":"ΔHbT","t":4.12,"v":-3.3},{"s":"ΔHbT","t":4.135,"v":-3.55},{"s":"ΔHbT","t":4.15,"v":-1.5},{"s":"ΔHbT","t":4.165,"v":0.5},{"s":"ΔHbT","t":4.175,"v":2.0},{"s":"ΔHbT","t":4.187,"v":2.9},{"s":"ΔHbT","t":4.2,"v":2.4},{"s":"ΔHbT","t":4.215,"v":1.2},{"s":"ΔHbT","t":4.24,"v":0.3},{"s":"ΔHbT","t":4.255,"v":1.5},{"s":"ΔHbT","t":4.265,"v":2.0},{"s":"ΔHbT","t":4.279,"v":2.4},{"s":"ΔHbT","t":4.295,"v":1.8},{"s":"ΔHbT","t":4.31,"v":2.5},{"s":"ΔHbT","t":4.325,"v":2.2},{"s":"ΔHbT","t":4.344,"v":3.2},{"s":"ΔHbT","t":4.36,"v":2.6},{"s":"ΔHbT","t":4.37,"v":2.0},{"s":"ΔHbT","t":4.383,"v":1.9},{"s":"ΔHbT","t":4.4,"v":2.8},{"s":"ΔHbT","t":4.41,"v":2.5},{"s":"ΔHbT","t":4.422,"v":3.2},{"s":"ΔHbT","t":4.44,"v":2.2},{"s":"ΔHbT","t":4.45,"v":1.9},{"s":"ΔHbT","t":4.462,"v":1.0},{"s":"ΔHbT","t":4.474,"v":0.6},{"s":"ΔHbT","t":4.49,"v":1.4},{"s":"ΔHbT","t":4.505,"v":1.0},{"s":"ΔHbT","t":4.515,"v":0.3},{"s":"ΔHbT","t":4.526,"v":0.1},{"s":"ΔHbT","t":4.54,"v":-0.5},{"s":"ΔHbT","t":4.553,"v":-0.9},{"s":"ΔHbT","t":4.565,"v":-1.9},{"s":"ΔHbT","t":4.58,"v":-1.0},{"s":"ΔHbT","t":4.595,"v":-0.8},{"s":"ΔHbT","t":4.605,"v":-0.2},{"s":"ΔHbT","t":4.617,"v":-0.1},{"s":"ΔHbT","t":4.63,"v":-0.7},{"s":"ΔHbT","t":4.645,"v":-1.1},{"s":"ΔHbT","t":4.655,"v":-1.2},{"s":"ΔHbT","t":4.669,"v":-1.7},{"s":"ΔHbT","t":4.68,"v":-2.3},{"s":"ΔHbT","t":4.695,"v":-2.6},{"s":"ΔHbT","t":4.708,"v":-2.95},{"s":"ΔHbT","t":4.72,"v":-2.0},{"s":"ΔHbT","t":4.735,"v":-1.2},{"s":"ΔHbT","t":4.747,"v":-0.7},{"s":"ΔHbT","t":4.756,"v":-0.5},{"s":"ΔHbT","t":4.766,"v":-1.1}
],
"b":[
{"t":0,"v":2},{"t":0.008,"v":-8},{"t":0.016,"v":4},{"t":0.024,"v":-7},{"t":0.032,"v":1},{"t":0.04,"v":-9},{"t":0.048,"v":0},{"t":0.056,"v":-8},{"t":0.064,"v":3},{"t":0.072,"v":-6},{"t":0.076,"v":13},{"t":0.082,"v":-7},{"t":0.09,"v":1},{"t":0.098,"v":-9},{"t":0.106,"v":2},{"t":0.114,"v":20},{"t":0.12,"v":-5},{"t":0.128,"v":2},{"t":0.136,"v":-8},{"t":0.146,"v":-1},{"t":0.156,"v":-9},{"t":0.166,"v":-2},{"t":0.176,"v":-9},{"t":0.186,"v":-3},{"t":0.196,"v":-8},{"t":0.206,"v":-2},{"t":0.216,"v":-8},{"t":0.226,"v":-3},{"t":0.236,"v":-8},{"t":0.246,"v":-1},{"t":0.256,"v":-7},{"t":0.266,"v":0},{"t":0.276,"v":-6},{"t":0.286,"v":2},{"t":0.296,"v":-5},{"t":0.306,"v":5},{"t":0.316,"v":-3},{"t":0.326,"v":8},{"t":0.336,"v":-1},{"t":0.346,"v":10},{"t":0.356,"v":0},{"t":0.366,"v":13},{"t":0.374,"v":1},{"t":0.382,"v":7},{"t":0.39,"v":15},{"t":0.398,"v":2},{"t":0.406,"v":18},{"t":0.414,"v":3},{"t":0.422,"v":9},{"t":0.43,"v":3},{"t":0.438,"v":7},{"t":0.446,"v":5},{"t":0.455,"v":2},{"t":0.462,"v":-30},{"t":0.466,"v":-55},{"t":0.472,"v":-20},{"t":0.478,"v":0},{"t":0.484,"v":28},{"t":0.49,"v":-5},{"t":0.496,"v":-18},{"t":0.504,"v":-22},{"t":0.512,"v":-19},{"t":0.52,"v":-26},{"t":0.528,"v":-24},{"t":0.536,"v":-31},{"t":0.544,"v":-32},{"t":0.552,"v":-22},{"t":0.56,"v":-6},{"t":0.568,"v":2},{"t":0.576,"v":8},{"t":0.584,"v":4},{"t":0.592,"v":11},{"t":0.6,"v":6},{"t":0.608,"v":10},{"t":0.616,"v":19},{"t":0.624,"v":7},{"t":0.632,"v":18},{"t":0.64,"v":6},{"t":0.648,"v":16},{"t":0.656,"v":4},{"t":0.664,"v":10},{"t":0.672,"v":1},{"t":0.68,"v":6},{"t":0.69,"v":-2},{"t":0.7,"v":2},{"t":0.71,"v":-5},{"t":0.72,"v":-1},{"t":0.73,"v":-8},{"t":0.74,"v":-3},{"t":0.75,"v":-10},{"t":0.76,"v":-4},{"t":0.77,"v":-12},{"t":0.78,"v":-5},{"t":0.79,"v":-11},{"t":0.8,"v":-5},{"t":0.81,"v":-10},{"t":0.82,"v":-4},{"t":0.83,"v":-9},{"t":0.84,"v":-3},{"t":0.85,"v":-9},{"t":0.86,"v":-2},{"t":0.868,"v":10},{"t":0.876,"v":-4},{"t":0.886,"v":13},{"t":0.894,"v":-3},{"t":0.902,"v":-8},{"t":0.91,"v":20},{"t":0.918,"v":-4},{"t":0.928,"v":2},{"t":0.938,"v":-7},{"t":0.948,"v":1},{"t":0.958,"v":-8},{"t":0.968,"v":2},{"t":0.978,"v":-7},{"t":0.988,"v":1},{"t":0.998,"v":-6},{"t":1.008,"v":3},{"t":1.018,"v":-6},{"t":1.028,"v":2},{"t":1.038,"v":-7},{"t":1.048,"v":1},{"t":1.058,"v":-7},{"t":1.068,"v":3},{"t":1.078,"v":-6},{"t":1.088,"v":2},{"t":1.098,"v":-12},{"t":1.108,"v":1},{"t":1.118,"v":-6},{"t":1.128,"v":3},{"t":1.138,"v":-5},{"t":1.148,"v":2},{"t":1.158,"v":-6},{"t":1.168,"v":12},{"t":1.176,"v":-4},{"t":1.186,"v":3},{"t":1.196,"v":-5},{"t":1.206,"v":18},{"t":1.214,"v":-4},{"t":1.224,"v":2},{"t":1.234,"v":-6},{"t":1.244,"v":12},{"t":1.252,"v":-4},{"t":1.262,"v":1},{"t":1.272,"v":-6},{"t":1.282,"v":2},{"t":1.292,"v":-5},{"t":1.302,"v":1},{"t":1.312,"v":-6},{"t":1.322,"v":2},{"t":1.332,"v":-5},{"t":1.342,"v":1},{"t":1.352,"v":-4},{"t":1.362,"v":2},{"t":1.372,"v":-3},{"t":1.382,"v":4},{"t":1.392,"v":-2},{"t":1.4,"v":20},{"t":1.405,"v":34},{"t":1.41,"v":30},{"t":1.416,"v":-10},{"t":1.422,"v":-40},{"t":1.428,"v":-59},{"t":1.434,"v":-20},{"t":1.44,"v":20},{"t":1.446,"v":42},{"t":1.452,"v":36},{"t":1.458,"v":-5},{"t":1.464,"v":-35},{"t":1.47,"v":-53},{"t":1.476,"v":-30},{"t":1.482,"v":-5},{"t":1.49,"v":-3},{"t":1.5,"v":2},{"t":1.508,"v":20},{"t":1.516,"v":-2},{"t":1.526,"v":-6},{"t":1.536,"v":1},{"t":1.546,"v":-7},{"t":1.556,"v":2},{"t":1.566,"v":-6},{"t":1.576,"v":1},{"t":1.586,"v":-8},{"t":1.596,"v":1},{"t":1.606,"v":-6},{"t":1.616,"v":3},{"t":1.626,"v":-7},{"t":1.636,"v":0},{"t":1.646,"v":-6},{"t":1.656,"v":2},{"t":1.666,"v":-7},{"t":1.676,"v":1},{"t":1.686,"v":-6},{"t":1.696,"v":6},{"t":1.704,"v":-5},{"t":1.714,"v":1},{"t":1.724,"v":-6},{"t":1.734,"v":2},{"t":1.744,"v":-6},{"t":1.754,"v":0},{"t":1.764,"v":-7},{"t":1.774,"v":1},{"t":1.784,"v":-5},{"t":1.794,"v":2},{"t":1.804,"v":-6},{"t":1.814,"v":1},{"t":1.824,"v":-7},{"t":1.834,"v":2},{"t":1.844,"v":-6},{"t":1.854,"v":0},{"t":1.864,"v":-7},{"t":1.874,"v":1},{"t":1.884,"v":-6},{"t":1.894,"v":2},{"t":1.904,"v":-5},{"t":1.914,"v":3},{"t":1.924,"v":-5},{"t":1.934,"v":1},{"t":1.944,"v":-6},{"t":1.954,"v":8},{"t":1.962,"v":-4},{"t":1.972,"v":2},{"t":1.982,"v":-5},{"t":1.992,"v":1},{"t":2.002,"v":-6},{"t":2.012,"v":2},{"t":2.022,"v":-5},{"t":2.032,"v":1},{"t":2.042,"v":-6},{"t":2.052,"v":2},{"t":2.062,"v":-4},{"t":2.072,"v":3},{"t":2.082,"v":-4},{"t":2.092,"v":2},{"t":2.102,"v":-3},{"t":2.112,"v":4},{"t":2.122,"v":-3},{"t":2.132,"v":5},{"t":2.142,"v":-2},{"t":2.152,"v":6},{"t":2.162,"v":-1},{"t":2.172,"v":7},{"t":2.182,"v":0},{"t":2.192,"v":8},{"t":2.202,"v":1},{"t":2.212,"v":12},{"t":2.22,"v":2},{"t":2.228,"v":15},{"t":2.236,"v":3},{"t":2.244,"v":8},{"t":2.252,"v":2},{"t":2.26,"v":-10},{"t":2.266,"v":-30},{"t":2.272,"v":-48},{"t":2.278,"v":-20},{"t":2.286,"v":0},{"t":2.294,"v":20},{"t":2.3,"v":32},{"t":2.306,"v":10},{"t":2.312,"v":-20},{"t":2.318,"v":-45},{"t":2.324,"v":-25},{"t":2.332,"v":-5},{"t":2.34,"v":0},{"t":2.35,"v":-2},{"t":2.36,"v":4},{"t":2.37,"v":2},{"t":2.38,"v":6},{"t":2.39,"v":4},{"t":2.4,"v":10},{"t":2.41,"v":6},{"t":2.42,"v":8},{"t":2.43,"v":3},{"t":2.44,"v":5},{"t":2.45,"v":0},{"t":2.46,"v":2},{"t":2.47,"v":-4},{"t":2.48,"v":-2},{"t":2.49,"v":-7},{"t":2.5,"v":-4},{"t":2.51,"v":-9},{"t":2.52,"v":-6},{"t":2.53,"v":-11},{"t":2.54,"v":-7},{"t":2.55,"v":-13},{"t":2.56,"v":-8},{"t":2.57,"v":-12},{"t":2.58,"v":-6},{"t":2.59,"v":-10},{"t":2.6,"v":-4},{"t":2.61,"v":-8},{"t":2.62,"v":-2},{"t":2.63,"v":-6},{"t":2.64,"v":0},{"t":2.65,"v":-3},{"t":2.66,"v":3},{"t":2.67,"v":-1},{"t":2.68,"v":5},{"t":2.69,"v":1},{"t":2.7,"v":8},{"t":2.71,"v":3},{"t":2.72,"v":10},{"t":2.728,"v":6},{"t":2.736,"v":12},{"t":2.744,"v":5},{"t":2.752,"v":-20},{"t":2.758,"v":-43},{"t":2.764,"v":-30},{"t":2.772,"v":-5},{"t":2.78,"v":10},{"t":2.786,"v":13},{"t":2.792,"v":5},{"t":2.8,"v":-20},{"t":2.806,"v":-43},{"t":2.812,"v":-30},{"t":2.82,"v":-5},{"t":2.83,"v":15},{"t":2.838,"v":29},{"t":2.846,"v":20},{"t":2.854,"v":5},{"t":2.862,"v":-7},{"t":2.87,"v":-3},{"t":2.88,"v":-8},{"t":2.89,"v":-4},{"t":2.9,"v":-10},{"t":2.91,"v":-3},{"t":2.92,"v":-9},{"t":2.93,"v":-2},{"t":2.94,"v":-9},{"t":2.95,"v":-3},{"t":2.96,"v":-8},{"t":2.97,"v":-1},{"t":2.98,"v":-9},{"t":2.99,"v":-2},{"t":3.0,"v":-8},{"t":3.01,"v":-1},{"t":3.02,"v":-7},{"t":3.03,"v":0},{"t":3.04,"v":-8},{"t":3.05,"v":-1},{"t":3.06,"v":-7},{"t":3.07,"v":1},{"t":3.08,"v":-6},{"t":3.09,"v":0},{"t":3.1,"v":-7},{"t":3.11,"v":1},{"t":3.12,"v":-5},{"t":3.13,"v":2},{"t":3.14,"v":-5},{"t":3.15,"v":3},{"t":3.16,"v":-4},{"t":3.17,"v":4},{"t":3.18,"v":-3},{"t":3.19,"v":5},{"t":3.2,"v":-2},{"t":3.21,"v":6},{"t":3.22,"v":-1},{"t":3.23,"v":8},{"t":3.24,"v":0},{"t":3.25,"v":9},{"t":3.26,"v":1},{"t":3.27,"v":10},{"t":3.28,"v":2},{"t":3.29,"v":12},{"t":3.3,"v":3},{"t":3.31,"v":14},{"t":3.32,"v":4},{"t":3.33,"v":10},{"t":3.34,"v":5},{"t":3.35,"v":12},{"t":3.36,"v":6},{"t":3.37,"v":10},{"t":3.38,"v":27},{"t":3.386,"v":5},{"t":3.392,"v":-30},{"t":3.398,"v":-48},{"t":3.404,"v":-25},{"t":3.41,"v":-10},{"t":3.418,"v":-15},{"t":3.426,"v":5},{"t":3.432,"v":13},{"t":3.438,"v":-8},{"t":3.446,"v":-22},{"t":3.454,"v":-12},{"t":3.462,"v":-18},{"t":3.47,"v":-8},{"t":3.478,"v":-25},{"t":3.486,"v":0},{"t":3.494,"v":15},{"t":3.502,"v":-5},{"t":3.51,"v":-15},{"t":3.518,"v":-8},{"t":3.526,"v":-25},{"t":3.534,"v":0},{"t":3.542,"v":10},{"t":3.55,"v":5},{"t":3.558,"v":20},{"t":3.566,"v":15},{"t":3.574,"v":29},{"t":3.582,"v":18},{"t":3.59,"v":34},{"t":3.598,"v":20},{"t":3.606,"v":22},{"t":3.614,"v":12},{"t":3.622,"v":10},{"t":3.63,"v":-5},{"t":3.638,"v":-20},{"t":3.646,"v":-40},{"t":3.654,"v":-38},{"t":3.662,"v":-20},{"t":3.67,"v":-2},{"t":3.68,"v":-3},{"t":3.69,"v":-8},{"t":3.7,"v":-5},{"t":3.71,"v":-9},{"t":3.72,"v":-3},{"t":3.73,"v":-8},{"t":3.74,"v":-2},{"t":3.75,"v":-7},{"t":3.76,"v":-1},{"t":3.77,"v":-7},{"t":3.78,"v":-1},{"t":3.79,"v":-6},{"t":3.8,"v":0},{"t":3.81,"v":-6},{"t":3.82,"v":1},{"t":3.83,"v":-5},{"t":3.84,"v":17},{"t":3.846,"v":-4},{"t":3.856,"v":2},{"t":3.866,"v":17},{"t":3.872,"v":-4},{"t":3.882,"v":2},{"t":3.892,"v":-4},{"t":3.902,"v":3},{"t":3.912,"v":-3},{"t":3.922,"v":4},{"t":3.932,"v":-3},{"t":3.942,"v":5},{"t":3.952,"v":-2},{"t":3.962,"v":5},{"t":3.972,"v":-2},{"t":3.982,"v":6},{"t":3.992,"v":-1},{"t":4.002,"v":7},{"t":4.012,"v":0},{"t":4.022,"v":6},{"t":4.032,"v":0},{"t":4.042,"v":7},{"t":4.052,"v":0},{"t":4.062,"v":8},{"t":4.072,"v":1},{"t":4.082,"v":9},{"t":4.092,"v":2},{"t":4.102,"v":8},{"t":4.112,"v":2},{"t":4.122,"v":9},{"t":4.132,"v":3},{"t":4.142,"v":10},{"t":4.152,"v":3},{"t":4.162,"v":9},{"t":4.174,"v":8.5},{"t":4.186,"v":-10},{"t":4.2,"v":-38},{"t":4.212,"v":-7},{"t":4.226,"v":-6},{"t":4.24,"v":10},{"t":4.256,"v":18},{"t":4.265,"v":22},{"t":4.275,"v":5},{"t":4.292,"v":-41},{"t":4.305,"v":5},{"t":4.318,"v":14},{"t":4.332,"v":12},{"t":4.345,"v":15},{"t":4.356,"v":5},{"t":4.37,"v":-44},{"t":4.383,"v":5},{"t":4.396,"v":15},{"t":4.41,"v":10},{"t":4.422,"v":5},{"t":4.435,"v":-41},{"t":4.448,"v":5},{"t":4.461,"v":14},{"t":4.475,"v":5},{"t":4.49,"v":-38},{"t":4.505,"v":5},{"t":4.516,"v":15},{"t":4.526,"v":29},{"t":4.54,"v":12},{"t":4.552,"v":14},{"t":4.565,"v":0},{"t":4.578,"v":-36},{"t":4.591,"v":0},{"t":4.604,"v":5},{"t":4.617,"v":0},{"t":4.63,"v":-38},{"t":4.643,"v":0},{"t":4.656,"v":10},{"t":4.668,"v":11},{"t":4.682,"v":0},{"t":4.695,"v":-32},{"t":4.708,"v":0},{"t":4.72,"v":10},{"t":4.733,"v":8},{"t":4.745,"v":9},{"t":4.755,"v":0},{"t":4.766,"v":-15}
],
"c":[
{"t":49.1,"v":-3.75},{"t":49.3,"v":-3.87},{"t":49.53,"v":-4.08},{"t":49.62,"v":-4.13},{"t":49.71,"v":-4.04},{"t":49.82,"v":-3.53},{"t":49.9,"v":-3.51},{"t":49.98,"v":-3.53},{"t":50.09,"v":-3.38},{"t":50.2,"v":-3.4},{"t":50.31,"v":-3.44},{"t":50.49,"v":-3.46},{"t":50.64,"v":-3.53},{"t":50.98,"v":-3.7},{"t":51.31,"v":-3.94},{"t":51.54,"v":-4.13},{"t":51.71,"v":-4.36},{"t":51.87,"v":-4.44},{"t":51.98,"v":-4.21},{"t":52.09,"v":-3.87},{"t":52.16,"v":-3.84},{"t":52.23,"v":-3.9},{"t":52.32,"v":-3.77},{"t":52.43,"v":-3.76},{"t":52.54,"v":-3.83},{"t":52.68,"v":-3.86},{"t":52.88,"v":-3.96},{"t":53.1,"v":-4.06},{"t":53.44,"v":-4.23},{"t":53.66,"v":-4.38},{"t":53.89,"v":-4.53},{"t":53.95,"v":-4.57},{"t":54.11,"v":-4.21},{"t":54.16,"v":-4.01},{"t":54.27,"v":-4.06},{"t":54.34,"v":-4.01},{"t":54.5,"v":-3.92},{"t":54.61,"v":-3.96},{"t":54.79,"v":-4.0},{"t":54.9,"v":-4.01},{"t":55.12,"v":-4.12},{"t":55.41,"v":-4.25},{"t":55.61,"v":-4.38},{"t":55.75,"v":-4.45},{"t":55.9,"v":-4.21},{"t":55.97,"v":-4.02},{"t":56.04,"v":-4.0},{"t":56.13,"v":-3.98},{"t":56.24,"v":-3.86},{"t":56.35,"v":-3.89},{"t":56.47,"v":-3.94},{"t":56.58,"v":-3.94},{"t":56.8,"v":-4.06},{"t":57.03,"v":-4.13},{"t":57.2,"v":-4.25},{"t":57.32,"v":-4.27},{"t":57.43,"v":-4.04},{"t":57.52,"v":-3.83},{"t":57.61,"v":-3.82},{"t":57.81,"v":-3.75},{"t":57.92,"v":-3.77},{"t":58.03,"v":-3.82},{"t":58.14,"v":-3.83},{"t":58.37,"v":-3.93},{"t":58.59,"v":-4.04},{"t":58.82,"v":-4.17},{"t":58.99,"v":-4.31},{"t":59.08,"v":-4.31},{"t":59.2,"v":-4.04},{"t":59.26,"v":-3.82},{"t":59.38,"v":-3.8},{"t":59.49,"v":-3.77},{"t":59.6,"v":-3.75},{"t":59.67,"v":-3.79},{"t":59.83,"v":-3.82},{"t":60.05,"v":-3.9},{"t":60.16,"v":-3.98},{"t":60.34,"v":-4.04},{"t":60.61,"v":-4.12},{"t":60.77,"v":-4.18},{"t":60.88,"v":-3.98},{"t":60.99,"v":-3.71},{"t":61.17,"v":-3.7},{"t":61.29,"v":-3.63},{"t":61.4,"v":-3.65},{"t":61.51,"v":-3.69},{"t":61.73,"v":-3.79},{"t":61.84,"v":-3.84},{"t":62.07,"v":-3.94},{"t":62.4,"v":-4.13},{"t":62.63,"v":-4.27},{"t":62.78,"v":-4.34},{"t":62.9,"v":-4.13},{"t":63.01,"v":-3.77},{"t":63.07,"v":-3.75},{"t":63.18,"v":-3.75},{"t":63.3,"v":-3.66},{"t":63.41,"v":-3.7},{"t":63.52,"v":-3.72},{"t":63.7,"v":-3.72},{"t":63.86,"v":-3.78},{"t":64.08,"v":-3.87},{"t":64.24,"v":-3.94},{"t":64.35,"v":-3.99},{"t":64.42,"v":-3.98},{"t":64.53,"v":-3.62},{"t":64.64,"v":-3.52},{"t":64.75,"v":-3.53},{"t":64.87,"v":-3.45},{"t":64.98,"v":-3.46},{"t":65.09,"v":-3.53},{"t":65.27,"v":-3.53},{"t":65.42,"v":-3.6},{"t":65.65,"v":-3.65},{"t":65.87,"v":-3.73}
],
"d":[
{"h":16,"t":-0.5,"v":1.0},{"h":16,"t":-0.3,"v":0.8},{"h":16,"t":-0.1,"v":0.45},{"h":16,"t":0,"v":0.3},{"h":16,"t":0.1,"v":1.2},{"h":16,"t":0.25,"v":2.42},{"h":16,"t":0.35,"v":2.35},{"h":16,"t":0.6,"v":2.75},{"h":16,"t":0.9,"v":2.68},{"h":16,"t":1.2,"v":2.3},{"h":16,"t":1.5,"v":1.75},{"h":16,"t":1.8,"v":1.25},{"h":16,"t":2.2,"v":0.65},
{"h":17,"t":-0.5,"v":0.8},{"h":17,"t":-0.3,"v":0.65},{"h":17,"t":-0.1,"v":0.35},{"h":17,"t":0,"v":0.25},{"h":17,"t":0.1,"v":1.05},{"h":17,"t":0.25,"v":2.2},{"h":17,"t":0.35,"v":2.12},{"h":17,"t":0.6,"v":2.55},{"h":17,"t":0.9,"v":2.5},{"h":17,"t":1.2,"v":2.1},{"h":17,"t":1.5,"v":1.55},{"h":17,"t":1.8,"v":1.1},{"h":17,"t":2.14,"v":0.75},
{"h":18,"t":-0.5,"v":0.45},{"h":18,"t":-0.3,"v":0.35},{"h":18,"t":-0.1,"v":0.2},{"h":18,"t":0,"v":0.1},{"h":18,"t":0.1,"v":0.5},{"h":18,"t":0.25,"v":1.0},{"h":18,"t":0.35,"v":0.95},{"h":18,"t":0.6,"v":1.05},{"h":18,"t":0.9,"v":0.95},{"h":18,"t":1.2,"v":0.7},{"h":18,"t":1.5,"v":0.45},{"h":18,"t":1.95,"v":0.15},
{"h":19,"t":-0.5,"v":0.6},{"h":19,"t":-0.3,"v":0.5},{"h":19,"t":-0.1,"v":0.3},{"h":19,"t":0,"v":0.2},{"h":19,"t":0.1,"v":0.7},{"h":19,"t":0.25,"v":1.6},{"h":19,"t":0.35,"v":1.55},{"h":19,"t":0.6,"v":1.95},{"h":19,"t":0.9,"v":1.9},{"h":19,"t":1.2,"v":1.65},{"h":19,"t":1.5,"v":1.3},{"h":19,"t":1.8,"v":0.9},{"h":19,"t":2.07,"v":0.55},
{"h":20,"t":-0.5,"v":0.7},{"h":20,"t":-0.3,"v":0.55},{"h":20,"t":-0.1,"v":0.3},{"h":20,"t":0,"v":0.2},{"h":20,"t":0.1,"v":0.8},{"h":20,"t":0.25,"v":1.75},{"h":20,"t":0.35,"v":1.7},{"h":20,"t":0.6,"v":2.05},{"h":20,"t":0.9,"v":2.05},{"h":20,"t":1.2,"v":1.75},{"h":20,"t":1.5,"v":1.3},{"h":20,"t":1.8,"v":0.9},{"h":20,"t":2.1,"v":0.55},
{"h":21,"t":-0.5,"v":1.2},{"h":21,"t":-0.3,"v":0.9},{"h":21,"t":-0.1,"v":0.5},{"h":21,"t":0,"v":0.35},{"h":21,"t":0.1,"v":0.95},{"h":21,"t":0.25,"v":2.0},{"h":21,"t":0.35,"v":1.95},{"h":21,"t":0.6,"v":2.35},{"h":21,"t":0.9,"v":2.25},{"h":21,"t":1.2,"v":1.8},{"h":21,"t":1.5,"v":1.2},{"h":21,"t":1.8,"v":0.7},{"h":21,"t":2.0,"v":0.4},
{"h":22,"t":-0.5,"v":0.3},{"h":22,"t":-0.3,"v":0.25},{"h":22,"t":-0.1,"v":0.12},{"h":22,"t":0,"v":0.05},{"h":22,"t":0.1,"v":0.4},{"h":22,"t":0.25,"v":0.8},{"h":22,"t":0.35,"v":0.75},{"h":22,"t":0.6,"v":0.85},{"h":22,"t":0.9,"v":0.8},{"h":22,"t":1.2,"v":0.65},{"h":22,"t":1.5,"v":0.45},{"h":22,"t":1.8,"v":0.25},{"h":22,"t":1.94,"v":0.12},
{"h":23,"t":-0.5,"v":0.3},{"h":23,"t":-0.3,"v":0.25},{"h":23,"t":-0.1,"v":0.12},{"h":23,"t":0,"v":0.04},{"h":23,"t":0.1,"v":0.4},{"h":23,"t":0.25,"v":0.85},{"h":23,"t":0.35,"v":0.8},{"h":23,"t":0.6,"v":0.8},{"h":23,"t":0.9,"v":0.6},{"h":23,"t":1.2,"v":0.4},{"h":23,"t":1.7,"v":0.12},
{"h":24,"t":-0.5,"v":0.9},{"h":24,"t":-0.3,"v":0.7},{"h":24,"t":-0.1,"v":0.4},{"h":24,"t":0,"v":0.25},{"h":24,"t":0.1,"v":0.9},{"h":24,"t":0.25,"v":1.85},{"h":24,"t":0.35,"v":1.8},{"h":24,"t":0.6,"v":2.15},{"h":24,"t":0.9,"v":2.0},{"h":24,"t":1.2,"v":1.5},{"h":24,"t":1.5,"v":1.0},{"h":24,"t":1.82,"v":0.6},
{"h":26,"t":-0.5,"v":0.5},{"h":26,"t":-0.3,"v":0.4},{"h":26,"t":-0.1,"v":0.2},{"h":26,"t":0,"v":0.1},{"h":26,"t":0.1,"v":0.6},{"h":26,"t":0.25,"v":1.35},{"h":26,"t":0.35,"v":1.3},{"h":26,"t":0.6,"v":1.6},{"h":26,"t":0.9,"v":1.5},{"h":26,"t":1.2,"v":1.15},{"h":26,"t":1.5,"v":0.75},{"h":26,"t":1.76,"v":0.4},
{"h":27,"t":-0.5,"v":0.6},{"h":27,"t":-0.3,"v":0.5},{"h":27,"t":-0.1,"v":0.25},{"h":27,"t":0,"v":0.12},{"h":27,"t":0.1,"v":0.55},{"h":27,"t":0.25,"v":1.15},{"h":27,"t":0.35,"v":1.1},{"h":27,"t":0.6,"v":1.0},{"h":27,"t":0.9,"v":0.7},{"h":27,"t":1.3,"v":0.2},
{"h":28,"t":-0.5,"v":0.4},{"h":28,"t":-0.3,"v":0.3},{"h":28,"t":-0.1,"v":0.15},{"h":28,"t":0,"v":0.08},{"h":28,"t":0.1,"v":0.5},{"h":28,"t":0.25,"v":1.1},{"h":28,"t":0.35,"v":1.05},{"h":28,"t":0.6,"v":1.2},{"h":28,"t":0.9,"v":1.05},{"h":28,"t":1.2,"v":0.75},{"h":28,"t":1.5,"v":0.5},{"h":28,"t":1.67,"v":0.3},
{"h":30,"t":-0.5,"v":1.4},{"h":30,"t":-0.3,"v":1.1},{"h":30,"t":-0.1,"v":0.6},{"h":30,"t":0,"v":0.4},{"h":30,"t":0.1,"v":0.9},{"h":30,"t":0.25,"v":1.75},{"h":30,"t":0.35,"v":1.7},{"h":30,"t":0.6,"v":1.95},{"h":30,"t":0.9,"v":1.75},{"h":30,"t":1.2,"v":1.25},{"h":30,"t":1.4,"v":0.8},{"h":30,"t":1.62,"v":0.55},
{"h":31,"t":-0.5,"v":0.25},{"h":31,"t":-0.3,"v":0.2},{"h":31,"t":-0.1,"v":0.1},{"h":31,"t":0,"v":0.02},{"h":31,"t":0.1,"v":0.3},{"h":31,"t":0.25,"v":0.6},{"h":31,"t":0.35,"v":0.55},{"h":31,"t":0.6,"v":0.55},{"h":31,"t":0.9,"v":0.45},{"h":31,"t":1.2,"v":0.3},{"h":31,"t":1.5,"v":0.15},
{"h":32,"t":-0.5,"v":0.7},{"h":32,"t":-0.3,"v":0.55},{"h":32,"t":-0.1,"v":0.3},{"h":32,"t":0,"v":0.18},{"h":32,"t":0.1,"v":0.7},{"h":32,"t":0.25,"v":1.5},{"h":32,"t":0.35,"v":1.45},{"h":32,"t":0.6,"v":1.6},{"h":32,"t":0.9,"v":1.35},{"h":32,"t":1.2,"v":0.9},{"h":32,"t":1.54,"v":0.45},
{"h":34,"t":-0.5,"v":0.25},{"h":34,"t":-0.3,"v":0.22},{"h":34,"t":-0.1,"v":0.1},{"h":34,"t":0,"v":0.03},{"h":34,"t":0.1,"v":0.35},{"h":34,"t":0.25,"v":0.7},{"h":34,"t":0.35,"v":0.65},{"h":34,"t":0.6,"v":0.65},{"h":34,"t":0.9,"v":0.55},{"h":34,"t":1.2,"v":0.35},{"h":34,"t":1.46,"v":0.1},
{"h":36,"t":-0.5,"v":0.5},{"h":36,"t":-0.3,"v":0.4},{"h":36,"t":-0.1,"v":0.2},{"h":36,"t":0,"v":0.1},{"h":36,"t":0.1,"v":0.55},{"h":36,"t":0.25,"v":1.2},{"h":36,"t":0.35,"v":1.15},{"h":36,"t":0.6,"v":1.25},{"h":36,"t":0.9,"v":1.0},{"h":36,"t":1.2,"v":0.65},{"h":36,"t":1.4,"v":0.35},
{"h":40,"t":-0.5,"v":1.1},{"h":40,"t":-0.3,"v":0.85},{"h":40,"t":-0.1,"v":0.45},{"h":40,"t":0,"v":0.28},{"h":40,"t":0.1,"v":0.8},{"h":40,"t":0.25,"v":1.6},{"h":40,"t":0.35,"v":1.55},{"h":40,"t":0.6,"v":1.65},{"h":40,"t":0.9,"v":1.25},{"h":40,"t":1.2,"v":0.8},{"h":40,"t":1.33,"v":0.6},
{"h":42,"t":-0.5,"v":0.35},{"h":42,"t":-0.3,"v":0.3},{"h":42,"t":-0.1,"v":0.15},{"h":42,"t":0,"v":0.05},{"h":42,"t":0.1,"v":0.45},{"h":42,"t":0.25,"v":0.95},{"h":42,"t":0.35,"v":0.9},{"h":42,"t":0.6,"v":0.9},{"h":42,"t":0.9,"v":0.7},{"h":42,"t":1.28,"v":0.3},
{"h":45,"t":-0.5,"v":0.8},{"h":45,"t":-0.3,"v":0.65},{"h":45,"t":-0.1,"v":0.35},{"h":45,"t":0,"v":0.2},{"h":45,"t":0.1,"v":0.65},{"h":45,"t":0.25,"v":1.35},{"h":45,"t":0.35,"v":1.3},{"h":45,"t":0.6,"v":1.3},{"h":45,"t":0.9,"v":0.95},{"h":45,"t":1.22,"v":0.55},
{"h":48,"t":-0.5,"v":0.55},{"h":48,"t":-0.3,"v":0.45},{"h":48,"t":-0.1,"v":0.22},{"h":48,"t":0,"v":0.1},{"h":48,"t":0.1,"v":0.5},{"h":48,"t":0.25,"v":1.05},{"h":48,"t":0.35,"v":1.0},{"h":48,"t":0.6,"v":0.95},{"h":48,"t":0.9,"v":0.7},{"h":48,"t":1.18,"v":0.4},
{"h":53,"t":-0.5,"v":1.3},{"h":53,"t":-0.3,"v":1.05},{"h":53,"t":-0.1,"v":0.6},{"h":53,"t":0,"v":0.4},{"h":53,"t":0.1,"v":0.85},{"h":53,"t":0.22,"v":1.5},{"h":53,"t":0.35,"v":1.45},{"h":53,"t":0.5,"v":1.4},{"h":53,"t":0.7,"v":1.15},{"h":53,"t":0.9,"v":0.85},{"h":53,"t":1.13,"v":0.5},
{"h":56,"t":-0.5,"v":1.55},{"h":56,"t":-0.3,"v":1.25},{"h":56,"t":-0.1,"v":0.7},{"h":56,"t":0,"v":0.5},{"h":56,"t":0.1,"v":1.0},{"h":56,"t":0.22,"v":1.75},{"h":56,"t":0.35,"v":1.7},{"h":56,"t":0.5,"v":1.6},{"h":56,"t":0.7,"v":1.3},{"h":56,"t":0.9,"v":0.95},{"h":56,"t":1.07,"v":0.7},
{"h":59,"t":-0.5,"v":0.7},{"h":59,"t":-0.3,"v":0.6},{"h":59,"t":-0.1,"v":0.3},{"h":59,"t":0,"v":0.1},{"h":59,"t":0.1,"v":0.5},{"h":59,"t":0.22,"v":1.2},{"h":59,"t":0.35,"v":1.15},{"h":59,"t":0.5,"v":1.05},{"h":59,"t":0.7,"v":0.85},{"h":59,"t":0.9,"v":0.6},{"h":59,"t":1.02,"v":0.45},
{"h":62,"t":-0.5,"v":1.2},{"h":62,"t":-0.3,"v":1.0},{"h":62,"t":-0.1,"v":0.5},{"h":62,"t":0,"v":0.3},{"h":62,"t":0.1,"v":0.9},{"h":62,"t":0.22,"v":1.85},{"h":62,"t":0.35,"v":1.75},{"h":62,"t":0.5,"v":1.6},{"h":62,"t":0.7,"v":1.2},{"h":62,"t":0.97,"v":0.65},
{"h":65,"t":-0.5,"v":0.9},{"h":65,"t":-0.3,"v":0.75},{"h":65,"t":-0.1,"v":0.35},{"h":65,"t":0,"v":0.2},{"h":65,"t":0.1,"v":0.7},{"h":65,"t":0.22,"v":2.0},{"h":65,"t":0.35,"v":1.95},{"h":65,"t":0.5,"v":1.8},{"h":65,"t":0.7,"v":1.4},{"h":65,"t":0.92,"v":0.9},
{"h":68,"t":-0.5,"v":1.0},{"h":68,"t":-0.3,"v":0.9},{"h":68,"t":-0.1,"v":0.4},{"h":68,"t":0,"v":0.2},{"h":68,"t":0.1,"v":0.8},{"h":68,"t":0.22,"v":1.6},{"h":68,"t":0.35,"v":1.5},{"h":68,"t":0.5,"v":1.3},{"h":68,"t":0.7,"v":0.9},{"h":68,"t":0.88,"v":0.55},
{"h":72,"t":-0.5,"v":0.8},{"h":72,"t":-0.3,"v":0.85},{"h":72,"t":-0.1,"v":0.35},{"h":72,"t":0,"v":0.15},{"h":72,"t":0.1,"v":0.7},{"h":72,"t":0.22,"v":1.45},{"h":72,"t":0.35,"v":1.3},{"h":72,"t":0.5,"v":1.05},{"h":72,"t":0.7,"v":0.7},{"h":72,"t":0.83,"v":0.45},
{"h":75,"t":-0.5,"v":0.6},{"h":75,"t":-0.3,"v":0.9},{"h":75,"t":-0.1,"v":0.4},{"h":75,"t":0,"v":0.15},{"h":75,"t":0.1,"v":0.75},{"h":75,"t":0.22,"v":1.55},{"h":75,"t":0.35,"v":1.35},{"h":75,"t":0.5,"v":0.95},{"h":75,"t":0.8,"v":0.4},
{"h":79,"t":-0.5,"v":0.5},{"h":79,"t":-0.3,"v":0.8},{"h":79,"t":-0.1,"v":0.35},{"h":79,"t":0,"v":0.1},{"h":79,"t":0.1,"v":0.6},{"h":79,"t":0.22,"v":1.25},{"h":79,"t":0.35,"v":1.05},{"h":79,"t":0.5,"v":0.75},{"h":79,"t":0.76,"v":0.35},
{"h":83,"t":-0.5,"v":0.4},{"h":83,"t":-0.3,"v":1.1},{"h":83,"t":-0.1,"v":0.5},{"h":83,"t":0,"v":0.2},{"h":83,"t":0.1,"v":0.8},{"h":83,"t":0.22,"v":1.6},{"h":83,"t":0.35,"v":1.35},{"h":83,"t":0.5,"v":0.9},{"h":83,"t":0.72,"v":0.45},
{"h":87,"t":-0.5,"v":0.3},{"h":87,"t":-0.3,"v":0.7},{"h":87,"t":-0.1,"v":0.3},{"h":87,"t":0,"v":0.08},{"h":87,"t":0.1,"v":0.5},{"h":87,"t":0.22,"v":1.1},{"h":87,"t":0.35,"v":0.95},{"h":87,"t":0.5,"v":0.6},{"h":87,"t":0.69,"v":0.3},
{"h":90,"t":-0.5,"v":0.8},{"h":90,"t":-0.3,"v":1.0},{"h":90,"t":-0.1,"v":0.5},{"h":90,"t":0,"v":0.2},{"h":90,"t":0.1,"v":0.65},{"h":90,"t":0.22,"v":1.2},{"h":90,"t":0.35,"v":1.1},{"h":90,"t":0.5,"v":0.8},{"h":90,"t":0.67,"v":0.55},
{"h":93,"t":-0.5,"v":0.8},{"h":93,"t":-0.4,"v":1.0},{"h":93,"t":-0.3,"v":1.1},{"h":93,"t":-0.2,"v":0.9},{"h":93,"t":-0.1,"v":0.5},{"h":93,"t":0,"v":0.2},{"h":93,"t":0.1,"v":0.65},{"h":93,"t":0.2,"v":1.2},{"h":93,"t":0.3,"v":1.1},{"h":93,"t":0.4,"v":0.8},{"h":93,"t":0.5,"v":0.55},{"h":93,"t":0.64,"v":0.45},
{"h":96,"t":-0.5,"v":0.7},{"h":96,"t":-0.4,"v":0.9},{"h":96,"t":-0.3,"v":1.0},{"h":96,"t":-0.2,"v":0.85},{"h":96,"t":-0.1,"v":0.45},{"h":96,"t":0,"v":0.15},{"h":96,"t":0.1,"v":0.55},{"h":96,"t":0.2,"v":1.0},{"h":96,"t":0.3,"v":0.95},{"h":96,"t":0.4,"v":0.7},{"h":96,"t":0.5,"v":0.45},{"h":96,"t":0.62,"v":0.35},
{"h":99,"t":-0.5,"v":0.6},{"h":99,"t":-0.4,"v":0.95},{"h":99,"t":-0.3,"v":1.3},{"h":99,"t":-0.2,"v":1.1},{"h":99,"t":-0.1,"v":0.6},{"h":99,"t":0,"v":0.25},{"h":99,"t":0.1,"v":0.8},{"h":99,"t":0.2,"v":1.45},{"h":99,"t":0.3,"v":1.3},{"h":99,"t":0.4,"v":0.8},{"h":99,"t":0.5,"v":0.45},{"h":99,"t":0.6,"v":0.3},
{"h":102,"t":-0.5,"v":0.35},{"h":102,"t":-0.4,"v":0.55},{"h":102,"t":-0.3,"v":0.7},{"h":102,"t":-0.2,"v":0.6},{"h":102,"t":-0.1,"v":0.3},{"h":102,"t":0,"v":0.02},{"h":102,"t":0.1,"v":0.3},{"h":102,"t":0.2,"v":0.65},{"h":102,"t":0.3,"v":0.6},{"h":102,"t":0.4,"v":0.4},{"h":102,"t":0.5,"v":0.25},{"h":102,"t":0.58,"v":0.2},
{"h":105,"t":-0.5,"v":0.5},{"h":105,"t":-0.4,"v":0.9},{"h":105,"t":-0.3,"v":1.05},{"h":105,"t":-0.2,"v":0.85},{"h":105,"t":-0.1,"v":0.4},{"h":105,"t":0,"v":0.08},{"h":105,"t":0.1,"v":0.45},{"h":105,"t":0.2,"v":0.95},{"h":105,"t":0.3,"v":0.9},{"h":105,"t":0.4,"v":0.6},{"h":105,"t":0.5,"v":0.35},{"h":105,"t":0.57,"v":0.25},
{"h":108,"t":-0.5,"v":0.45},{"h":108,"t":-0.4,"v":0.75},{"h":108,"t":-0.3,"v":0.9},{"h":108,"t":-0.2,"v":0.75},{"h":108,"t":-0.1,"v":0.35},{"h":108,"t":0,"v":0.05},{"h":108,"t":0.1,"v":0.4},{"h":108,"t":0.2,"v":0.8},{"h":108,"t":0.3,"v":0.75},{"h":108,"t":0.4,"v":0.45},{"h":108,"t":0.5,"v":0.2},{"h":108,"t":0.55,"v":0.15},
{"h":110,"t":-0.5,"v":0.4},{"h":110,"t":-0.4,"v":0.85},{"h":110,"t":-0.3,"v":1.15},{"h":110,"t":-0.2,"v":0.95},{"h":110,"t":-0.1,"v":0.5},{"h":110,"t":0,"v":0.12},{"h":110,"t":0.1,"v":0.55},{"h":110,"t":0.2,"v":1.05},{"h":110,"t":0.3,"v":0.95},{"h":110,"t":0.4,"v":0.6},{"h":110,"t":0.5,"v":0.3},{"h":110,"t":0.545,"v":0.25},
{"h":112,"t":-0.5,"v":0.2},{"h":112,"t":-0.4,"v":0.5},{"h":112,"t":-0.3,"v":0.8},{"h":112,"t":-0.2,"v":0.7},{"h":112,"t":-0.1,"v":0.35},{"h":112,"t":0,"v":0.05},{"h":112,"t":0.1,"v":0.35},{"h":112,"t":0.2,"v":0.75},{"h":112,"t":0.3,"v":0.7},{"h":112,"t":0.4,"v":0.4},{"h":112,"t":0.5,"v":0.15},
{"h":114,"t":-0.5,"v":0.65},{"h":114,"t":-0.4,"v":1.0},{"h":114,"t":-0.3,"v":1.2},{"h":114,"t":-0.2,"v":1.0},{"h":114,"t":-0.1,"v":0.55},{"h":114,"t":0,"v":0.2},{"h":114,"t":0.1,"v":0.65},{"h":114,"t":0.2,"v":1.15},{"h":114,"t":0.3,"v":1.05},{"h":114,"t":0.4,"v":0.7},{"h":114,"t":0.5,"v":0.4},
{"h":116,"t":-0.5,"v":0.25},{"h":116,"t":-0.4,"v":0.7},{"h":116,"t":-0.3,"v":1.05},{"h":116,"t":-0.2,"v":0.95},{"h":116,"t":-0.1,"v":0.5},{"h":116,"t":0,"v":0.15},{"h":116,"t":0.1,"v":0.7},{"h":116,"t":0.2,"v":1.3},{"h":116,"t":0.3,"v":1.1},{"h":116,"t":0.4,"v":0.6},{"h":116,"t":0.5,"v":0.25},
{"h":118,"t":-0.5,"v":0.3},{"h":118,"t":-0.4,"v":0.6},{"h":118,"t":-0.3,"v":0.95},{"h":118,"t":-0.2,"v":0.8},{"h":118,"t":-0.1,"v":0.4},{"h":118,"t":0,"v":0.1},{"h":118,"t":0.1,"v":0.45},{"h":118,"t":0.2,"v":0.9},{"h":118,"t":0.3,"v":0.8},{"h":118,"t":0.4,"v":0.45},{"h":118,"t":0.5,"v":0.15},
{"h":120,"t":-0.5,"v":0.2},{"h":120,"t":-0.4,"v":0.7},{"h":120,"t":-0.3,"v":1.1},{"h":120,"t":-0.2,"v":0.9},{"h":120,"t":-0.1,"v":0.45},{"h":120,"t":0,"v":0.1},{"h":120,"t":0.1,"v":0.55},{"h":120,"t":0.2,"v":1.1},{"h":120,"t":0.3,"v":0.95},{"h":120,"t":0.4,"v":0.5},{"h":120,"t":0.5,"v":0.15}
]
},
"vconcat":[
{
"width":610,"height":233,
"title":{"text":"(a)","dx":-63,"dy":24},
"layer":[
{"data":{"name":"bands"},"mark":{"type":"rect"},
"encoding":{
"x":{"field":"x0","type":"quantitative","scale":{"domain":[0,4.766],"nice":false,"zero":false},"axis":{"values":[0,0.5,1,1.5,2,2.5,3,3.5,4,4.5],"labels":false,"title":null}},
"x2":{"field":"x1"},
"fill":{"field":"lab","type":"nominal","scale":{"domain":["stimulation on"],"range":["#e3e3e3"]},"legend":{"orient":"none","legendX":450.3,"legendY":237,"title":null,"symbolType":"M-1,-0.45H1V0.45H-1Z","symbolSize":1024,"symbolStrokeWidth":0,"symbolOpacity":1,"labelFontSize":15,"labelOffset":7}}
}},
{"data":{"name":"a"},"mark":{"type":"line","strokeWidth":2.5,"clip":true},
"encoding":{
"x":{"field":"t","type":"quantitative"},
"y":{"field":"v","type":"quantitative","scale":{"domain":[-6.85,7.49],"nice":false,"zero":false},"axis":{"values":[-6,-4,-2,0,2,4,6],"title":"Δconcentration (μM)","titleX":-50.7,"titleY":128,"titleBaseline":"middle","labelPadding":13}},
"stroke":{"field":"s","type":"nominal","sort":null,"scale":{"domain":["ΔHbO","ΔHbR","ΔHbT","respiration belt"],"range":["#ff0000","#0000ff","#00ff00","#000000"]},"legend":{"orient":"none","legendX":34.3,"legendY":237,"direction":"horizontal","columns":4,"title":null,"symbolType":"stroke","symbolSize":1024,"symbolStrokeWidth":3,"labelFontSize":15,"labelOffset":7,"columnPadding":8}}
}},
{"data":{"values":[{"x0":0.794,"x1":1.102,"y0":-5,"y1":-1.95}]},"mark":{"type":"rect","filled":false,"stroke":"#000","strokeWidth":2},
"encoding":{"x":{"field":"x0","type":"quantitative"},"x2":{"field":"x1"},"y":{"field":"y0","type":"quantitative"},"y2":{"field":"y1"}}}
]
},
{
"vconcat":[
{
"width":610,"height":98,
"title":{"text":"(b)","dx":-65.7,"dy":4},
"layer":[
{"data":{"name":"bands"},"mark":{"type":"rect","color":"#e3e3e3"},
"encoding":{
"x":{"field":"x0","type":"quantitative","scale":{"domain":[0,4.766],"nice":false,"zero":false},"axis":{"values":[0,0.5,1,1.5,2,2.5,3,3.5,4,4.5],"title":"time (min)","labelExpr":"datum.value == 0 ? '0' : format(datum.value, '.1f')","labelPadding":5,"titlePadding":7}},
"x2":{"field":"x1"}
}},
{"data":{"name":"b"},"mark":{"type":"line","color":"#000","strokeWidth":1.8,"clip":true},
"encoding":{
"x":{"field":"t","type":"quantitative"},
"y":{"field":"v","type":"quantitative","scale":{"domain":[-59,41],"nice":false,"zero":false},"axis":{"values":[-40,-20,0,20,40],"title":"movement (a.u.)","titleX":-53.7,"titleY":50,"titleBaseline":"middle","labelPadding":8}}
}}
]
},
{
"hconcat":[
{
"width":250,"height":207,
"title":{"text":"(c)","dx":-65.3,"dy":12},
"data":{"name":"c"},
"mark":{"type":"line","color":"#ff0000","strokeWidth":2.5,"clip":true},
"encoding":{
"x":{"field":"t","type":"quantitative","scale":{"domain":[49.1,65.85],"nice":false,"zero":false},"axis":{"values":[50,55,60,65],"title":"time (s)","labelPadding":2,"titleY":34,"titleBaseline":"middle"}},
"y":{"field":"v","type":"quantitative","scale":{"domain":[-4.57,-3.39],"nice":false,"zero":false},"axis":{"values":[-4.4,-4.2,-4,-3.8,-3.6,-3.4],"format":".1f","title":"ΔHbO (μM)","titleX":-54.3,"titleY":101,"titleBaseline":"middle","labelPadding":5}}
}
},
{
"width":231,"height":207,
"title":{"text":"(d)","dx":-43,"dy":5.5},
"resolve":{"axis":{"y":"independent"}},
"layer":[
{"data":{"name":"d"},"mark":{"type":"line","strokeWidth":2,"interpolate":"monotone","clip":true},
"encoding":{
"x":{"field":"t","type":"quantitative","scale":{"domain":[-0.51,2.21],"nice":false,"zero":false},"axis":{"values":[0,1,2],"format":"d","title":"time (s)","labelPadding":2,"titleY":34,"titleBaseline":"middle"}},
"y":{"field":"v","type":"quantitative","scale":{"domain":[0,2.95],"nice":false,"zero":false},"axis":{"orient":"left","values":[0,0.5,1,1.5,2,2.5],"labelExpr":"datum.value == 0 ? '0' : format(datum.value, '.1f')","title":"ΔHbT (μM)","titleX":-38,"titleY":102,"titleBaseline":"middle","labelPadding":5,"domain":false}},
"color":{"field":"h","type":"quantitative","scale":{"type":"linear","domain":[11,24.625,38.25,51.875,65.5,79.125,92.75,106.375,120],"range":["#ffffcc","#ffeda0","#fed976","#feb24c","#fd8d3c","#fc4e2a","#e31a1c","#bd0026","#800026"],"interpolate":"rgb"},"legend":{"orient":"none","legendX":241.3,"legendY":11.3,"direction":"vertical","gradientLength":197,"gradientThickness":17,"title":null,"values":[20,40,60,80,100,120],"labelOffset":7,"labelFontSize":14,"gradientStrokeColor":"#555","gradientStrokeWidth":1}},
"detail":{"field":"h","type":"nominal"}
}},
{"data":{"values":[{"x":-0.51,"y0":0,"y1":2.77}]},"mark":{"type":"rule","color":"#666","strokeWidth":1},
"encoding":{"x":{"field":"x","type":"quantitative"},"y":{"field":"y0","type":"quantitative","axis":{"orient":"right","labels":false,"ticks":false,"domain":false,"title":"heart rate (BPM)","titleAngle":270,"titleX":72.7,"titleY":109.3,"titleBaseline":"middle","titleAlign":"center"}},"y2":{"field":"y1"}}}
]
}
],
"spacing":88,
"bounds":"flush",
"resolve":{"scale":{"color":"independent"},"legend":{"color":"independent"}}
}
],
"spacing":81.7,
"bounds":"flush",
"resolve":{"scale":{"color":"independent"},"legend":{"color":"independent"}}
}
],
"spacing":60,
"bounds":"flush",
"resolve":{"scale":{"color":"independent","stroke":"independent","fill":"independent"},"legend":{"color":"independent","stroke":"independent","fill":"independent"}}
}
